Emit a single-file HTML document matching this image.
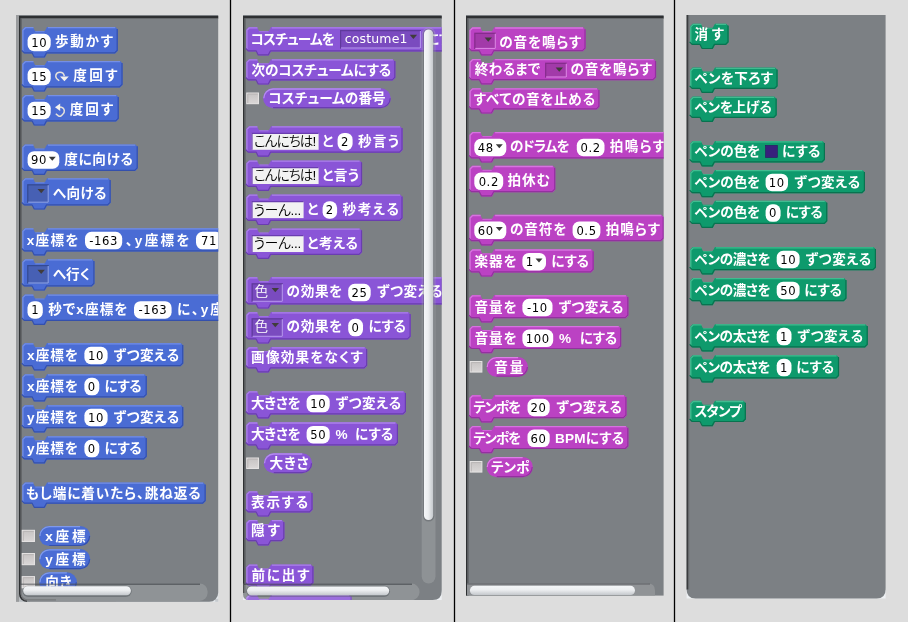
<!DOCTYPE html>
<html lang="ja"><head><meta charset="utf-8"><title>Scratch blocks</title>
<style>
html,body{margin:0;padding:0;background:#dddddd;}
body{width:908px;height:622px;overflow:hidden;position:relative;}
svg{position:absolute;left:0;top:0;display:block;will-change:transform;}
text{white-space:pre;font-feature-settings:"palt";}
</style></head><body>
<svg width="908" height="622" viewBox="0 0 908 622">
<defs><linearGradient id="tg" x1="0" y1="0" x2="0" y2="1"><stop offset="0" stop-color="#f4f6f8"/><stop offset="0.45" stop-color="#eceef0"/><stop offset="1" stop-color="#c4c8cc"/></linearGradient><linearGradient id="vg" x1="0" y1="0" x2="1" y2="0"><stop offset="0" stop-color="#f4f6f8"/><stop offset="0.45" stop-color="#eceef0"/><stop offset="1" stop-color="#c4c8cc"/></linearGradient><linearGradient id="cbg" x1="0" y1="0" x2="0" y2="1"><stop offset="0" stop-color="#c6c3c3"/><stop offset="1" stop-color="#dad7d7"/></linearGradient></defs>
<rect x="0" y="0" width="908" height="622" fill="#dddddd"/>
<rect x="229.85" y="0" width="1.3" height="622" fill="#000"/>
<rect x="453.85" y="0" width="1.3" height="622" fill="#000"/>
<rect x="673.85" y="0" width="1.3" height="622" fill="#000"/>
<rect x="116" y="591.8" width="102.2" height="10" fill="#e2e6ea"/>
<path d="M215.2,598.8 h3 v3 h-3z" fill="#c6cace"/>
<rect x="16" y="589.8" width="14" height="12" fill="#b9bdc1"/>
<path d="M19,15 H218.2 V592.8 A9,9 0 0 1 209.2,601.8 H27 A8,8 0 0 1 19,593.8 Z" fill="#7c8084"/>
<rect x="16" y="15" width="3" height="586.8" fill="#999b9d"/>
<rect x="19" y="16" width="199.2" height="2" fill="#2e3032"/>
<rect x="19" y="18" width="199.2" height="1" fill="#66696c"/>
<path d="M19.8,16 V593.8 A7.2,7.2 0 0 0 27,601" fill="none" stroke="#2e3032" stroke-width="1.6"/>
<path d="M21.2,18 V593.8 A6,6 0 0 0 27.2,599.8 H56" fill="none" stroke="#5e6164" stroke-width="1.2"/>
<clipPath id="cp1"><path d="M20.6,18 H218.2 V592.8 A9,9 0 0 1 209.2,601.8 H27 A8,8 0 0 1 20.6,593.8 Z"/></clipPath>
<g clip-path="url(#cp1)">
<path d="M24.80,27.00 L32.90,27.00 L35.00,31.00 L44.80,31.00 L47.10,27.00 L115.30,27.00 L117.80,29.50 L117.80,51.00 L115.30,53.50 L47.10,53.50 L44.90,57.60 L34.80,57.60 L32.70,53.50 L24.80,53.50 L22.30,51.00 L22.30,29.50Z" fill="#4a6cd4"/>
<path d="M22.90,51.70 L22.90,30.20 L25.40,27.70 L33.50,27.70 M47.90,27.70 L115.30,27.70" fill="none" stroke="#7f99ea" stroke-width="1.3" stroke-opacity="0.8" stroke-linejoin="round"/>
<path d="M35.30,31.60 L44.50,31.60" fill="none" stroke="#7f99ea" stroke-width="1" stroke-opacity="0.6"/>
<path d="M117.20,28.90 L117.20,50.40 L114.70,52.90 L46.50,52.90 L44.30,57.00 L34.20,57.00 L32.10,52.90 L24.20,52.90 L21.70,50.40" fill="none" stroke="#3450ad" stroke-width="1.2" stroke-linejoin="round"/>
<rect x="27.60" y="33.75" width="23.10" height="17.50" rx="6.50" ry="6.50" fill="#fff"/>
<text x="39.15" y="46.73" text-anchor="middle" letter-spacing="0.6" font-family='"DejaVu Sans","Liberation Sans",sans-serif' font-size="11.60" fill="#000">10</text>
<text x="55.10" y="46.30" textLength="57.70" lengthAdjust="spacing" font-family='"Liberation Sans","Noto Sans CJK JP",sans-serif' font-size="13.60" font-weight="bold" fill="#fff">歩動かす</text>
<path d="M24.80,61.00 L32.90,61.00 L35.00,65.00 L44.80,65.00 L47.10,61.00 L120.10,61.00 L122.60,63.50 L122.60,85.00 L120.10,87.50 L47.10,87.50 L44.90,91.60 L34.80,91.60 L32.70,87.50 L24.80,87.50 L22.30,85.00 L22.30,63.50Z" fill="#4a6cd4"/>
<path d="M22.90,85.70 L22.90,64.20 L25.40,61.70 L33.50,61.70 M47.90,61.70 L120.10,61.70" fill="none" stroke="#7f99ea" stroke-width="1.3" stroke-opacity="0.8" stroke-linejoin="round"/>
<path d="M35.30,65.60 L44.50,65.60" fill="none" stroke="#7f99ea" stroke-width="1" stroke-opacity="0.6"/>
<path d="M122.00,62.90 L122.00,84.40 L119.50,86.90 L46.50,86.90 L44.30,91.00 L34.20,91.00 L32.10,86.90 L24.20,86.90 L21.70,84.40" fill="none" stroke="#3450ad" stroke-width="1.2" stroke-linejoin="round"/>
<rect x="27.60" y="67.75" width="23.10" height="17.50" rx="6.50" ry="6.50" fill="#fff"/>
<text x="39.15" y="80.73" text-anchor="middle" letter-spacing="0.6" font-family='"DejaVu Sans","Liberation Sans",sans-serif' font-size="11.60" fill="#000">15</text>
<g transform="translate(55.00,71.50)" fill="none" stroke="#e6e2da" stroke-width="1.5"><path d="M4.2,9.2 L1.6,7 Q0.4,5.6 0.9,3.6 Q1.8,0.8 5,0.8 Q8.6,0.8 9.3,4.6"/><path d="M5,5 H13.8 L9.4,9.8 Z" fill="#f4f2ee" stroke="none"/></g>
<text x="73.30" y="80.30" textLength="44.00" lengthAdjust="spacing" font-family='"Liberation Sans","Noto Sans CJK JP",sans-serif' font-size="13.60" font-weight="bold" fill="#fff">度回す</text>
<path d="M24.80,95.00 L32.90,95.00 L35.00,99.00 L44.80,99.00 L47.10,95.00 L116.30,95.00 L118.80,97.50 L118.80,119.00 L116.30,121.50 L47.10,121.50 L44.90,125.60 L34.80,125.60 L32.70,121.50 L24.80,121.50 L22.30,119.00 L22.30,97.50Z" fill="#4a6cd4"/>
<path d="M22.90,119.70 L22.90,98.20 L25.40,95.70 L33.50,95.70 M47.90,95.70 L116.30,95.70" fill="none" stroke="#7f99ea" stroke-width="1.3" stroke-opacity="0.8" stroke-linejoin="round"/>
<path d="M35.30,99.60 L44.50,99.60" fill="none" stroke="#7f99ea" stroke-width="1" stroke-opacity="0.6"/>
<path d="M118.20,96.90 L118.20,118.40 L115.70,120.90 L46.50,120.90 L44.30,125.00 L34.20,125.00 L32.10,120.90 L24.20,120.90 L21.70,118.40" fill="none" stroke="#3450ad" stroke-width="1.2" stroke-linejoin="round"/>
<rect x="27.60" y="101.75" width="23.10" height="17.50" rx="6.50" ry="6.50" fill="#fff"/>
<text x="39.15" y="114.73" text-anchor="middle" letter-spacing="0.6" font-family='"DejaVu Sans","Liberation Sans",sans-serif' font-size="11.60" fill="#000">15</text>
<g transform="translate(55.00,103.50)" fill="none" stroke="#e6e2da" stroke-width="1.5"><path d="M4.5,3.6 Q8.6,3.6 9.3,7 Q9.6,9.4 7.6,11 L5.8,12.6 Q4.6,13.2 3.4,12.4 L0.8,10.2"/><path d="M5.2,0 V7.6 L0,3.8 Z" fill="#f4f2ee" stroke="none"/></g>
<text x="69.80" y="114.30" textLength="43.30" lengthAdjust="spacing" font-family='"Liberation Sans","Noto Sans CJK JP",sans-serif' font-size="13.60" font-weight="bold" fill="#fff">度回す</text>
<path d="M24.80,144.40 L32.90,144.40 L35.00,148.40 L44.80,148.40 L47.10,144.40 L135.30,144.40 L137.80,146.90 L137.80,168.40 L135.30,170.90 L47.10,170.90 L44.90,175.00 L34.80,175.00 L32.70,170.90 L24.80,170.90 L22.30,168.40 L22.30,146.90Z" fill="#4a6cd4"/>
<path d="M22.90,169.10 L22.90,147.60 L25.40,145.10 L33.50,145.10 M47.90,145.10 L135.30,145.10" fill="none" stroke="#7f99ea" stroke-width="1.3" stroke-opacity="0.8" stroke-linejoin="round"/>
<path d="M35.30,149.00 L44.50,149.00" fill="none" stroke="#7f99ea" stroke-width="1" stroke-opacity="0.6"/>
<path d="M137.20,146.30 L137.20,167.80 L134.70,170.30 L46.50,170.30 L44.30,174.40 L34.20,174.40 L32.10,170.30 L24.20,170.30 L21.70,167.80" fill="none" stroke="#3450ad" stroke-width="1.2" stroke-linejoin="round"/>
<rect x="27.60" y="151.15" width="31.70" height="17.50" rx="6.50" ry="6.50" fill="#fff"/>
<text x="38.95" y="164.13" text-anchor="middle" letter-spacing="0.6" font-family='"DejaVu Sans","Liberation Sans",sans-serif' font-size="11.60" fill="#000">90</text>
<path d="M48.80,156.70 h7.00 l-3.50,4.00 Z" fill="#3a3a3a"/>
<text x="64.20" y="163.70" textLength="68.80" lengthAdjust="spacing" font-family='"Liberation Sans","Noto Sans CJK JP",sans-serif' font-size="13.60" font-weight="bold" fill="#fff">度に向ける</text>
<path d="M24.80,178.20 L32.90,178.20 L35.00,182.20 L44.80,182.20 L47.10,178.20 L108.20,178.20 L110.70,180.70 L110.70,203.00 L108.20,205.50 L47.10,205.50 L44.90,209.60 L34.80,209.60 L32.70,205.50 L24.80,205.50 L22.30,203.00 L22.30,180.70Z" fill="#4a6cd4"/>
<path d="M22.90,203.70 L22.90,181.40 L25.40,178.90 L33.50,178.90 M47.90,178.90 L108.20,178.90" fill="none" stroke="#7f99ea" stroke-width="1.3" stroke-opacity="0.8" stroke-linejoin="round"/>
<path d="M35.30,182.80 L44.50,182.80" fill="none" stroke="#7f99ea" stroke-width="1" stroke-opacity="0.6"/>
<path d="M110.10,180.10 L110.10,202.40 L107.60,204.90 L46.50,204.90 L44.30,209.00 L34.20,209.00 L32.10,204.90 L24.20,204.90 L21.70,202.40" fill="none" stroke="#3450ad" stroke-width="1.2" stroke-linejoin="round"/>
<rect x="27.20" y="184.20" width="21.50" height="18.50" fill="#4760b4"/>
<path d="M27.80,202.70 V184.80 H48.70" fill="none" stroke="#344a93" stroke-width="1.2"/>
<path d="M28.20,202.20 H48.20 V185.20" fill="none" stroke="#90a6ea" stroke-width="1"/>
<path d="M37.50,189.00 h7.40 l-3.70,4.20 Z" fill="#403c3c"/>
<text x="52.70" y="197.50" textLength="53.80" lengthAdjust="spacing" font-family='"Liberation Sans","Noto Sans CJK JP",sans-serif' font-size="13.60" font-weight="bold" fill="#fff">へ向ける</text>
<path d="M24.80,228.20 L32.90,228.20 L35.00,232.20 L44.80,232.20 L47.10,228.20 L257.50,228.20 L260.00,230.70 L260.00,248.90 L257.50,251.40 L47.10,251.40 L44.90,255.50 L34.80,255.50 L32.70,251.40 L24.80,251.40 L22.30,248.90 L22.30,230.70Z" fill="#4a6cd4"/>
<path d="M22.90,249.60 L22.90,231.40 L25.40,228.90 L33.50,228.90 M47.90,228.90 L257.50,228.90" fill="none" stroke="#7f99ea" stroke-width="1.3" stroke-opacity="0.8" stroke-linejoin="round"/>
<path d="M35.30,232.80 L44.50,232.80" fill="none" stroke="#7f99ea" stroke-width="1" stroke-opacity="0.6"/>
<path d="M259.40,230.10 L259.40,248.30 L256.90,250.80 L46.50,250.80 L44.30,254.90 L34.20,254.90 L32.10,250.80 L24.20,250.80 L21.70,248.30" fill="none" stroke="#3450ad" stroke-width="1.2" stroke-linejoin="round"/>
<text x="26.70" y="244.80" textLength="51.80" lengthAdjust="spacing" font-family='"Liberation Sans","Noto Sans CJK JP",sans-serif' font-size="13.60" font-weight="bold" fill="#fff">x座標を</text>
<rect x="85.00" y="231.85" width="37.20" height="17.50" rx="6.50" ry="6.50" fill="#fff"/>
<text x="103.60" y="244.83" text-anchor="middle" letter-spacing="0.6" font-family='"DejaVu Sans","Liberation Sans",sans-serif' font-size="11.60" fill="#000">-163</text>
<text x="125.70" y="244.80" textLength="63.80" lengthAdjust="spacing" font-family='"Liberation Sans","Noto Sans CJK JP",sans-serif' font-size="13.60" font-weight="bold" fill="#fff">、y座標を</text>
<rect x="196.00" y="231.85" width="26.00" height="17.50" rx="6.50" ry="6.50" fill="#fff"/>
<text x="209.00" y="244.83" text-anchor="middle" letter-spacing="0.6" font-family='"DejaVu Sans","Liberation Sans",sans-serif' font-size="11.60" fill="#000">71</text>
<path d="M24.80,259.20 L32.90,259.20 L35.00,263.20 L44.80,263.20 L47.10,259.20 L92.00,259.20 L94.50,261.70 L94.50,284.00 L92.00,286.50 L47.10,286.50 L44.90,290.60 L34.80,290.60 L32.70,286.50 L24.80,286.50 L22.30,284.00 L22.30,261.70Z" fill="#4a6cd4"/>
<path d="M22.90,284.70 L22.90,262.40 L25.40,259.90 L33.50,259.90 M47.90,259.90 L92.00,259.90" fill="none" stroke="#7f99ea" stroke-width="1.3" stroke-opacity="0.8" stroke-linejoin="round"/>
<path d="M35.30,263.80 L44.50,263.80" fill="none" stroke="#7f99ea" stroke-width="1" stroke-opacity="0.6"/>
<path d="M93.90,261.10 L93.90,283.40 L91.40,285.90 L46.50,285.90 L44.30,290.00 L34.20,290.00 L32.10,285.90 L24.20,285.90 L21.70,283.40" fill="none" stroke="#3450ad" stroke-width="1.2" stroke-linejoin="round"/>
<rect x="27.20" y="265.00" width="21.50" height="18.50" fill="#4760b4"/>
<path d="M27.80,283.50 V265.60 H48.70" fill="none" stroke="#344a93" stroke-width="1.2"/>
<path d="M28.20,283.00 H48.20 V266.00" fill="none" stroke="#90a6ea" stroke-width="1"/>
<path d="M37.50,269.80 h7.40 l-3.70,4.20 Z" fill="#403c3c"/>
<text x="52.70" y="278.50" textLength="37.30" lengthAdjust="spacing" font-family='"Liberation Sans","Noto Sans CJK JP",sans-serif' font-size="13.60" font-weight="bold" fill="#fff">へ行く</text>
<path d="M24.80,294.40 L32.90,294.40 L35.00,298.40 L44.80,298.40 L47.10,294.40 L297.50,294.40 L300.00,296.90 L300.00,318.40 L297.50,320.90 L47.10,320.90 L44.90,325.00 L34.80,325.00 L32.70,320.90 L24.80,320.90 L22.30,318.40 L22.30,296.90Z" fill="#4a6cd4"/>
<path d="M22.90,319.10 L22.90,297.60 L25.40,295.10 L33.50,295.10 M47.90,295.10 L297.50,295.10" fill="none" stroke="#7f99ea" stroke-width="1.3" stroke-opacity="0.8" stroke-linejoin="round"/>
<path d="M35.30,299.00 L44.50,299.00" fill="none" stroke="#7f99ea" stroke-width="1" stroke-opacity="0.6"/>
<path d="M299.40,296.30 L299.40,317.80 L296.90,320.30 L46.50,320.30 L44.30,324.40 L34.20,324.40 L32.10,320.30 L24.20,320.30 L21.70,317.80" fill="none" stroke="#3450ad" stroke-width="1.2" stroke-linejoin="round"/>
<rect x="27.50" y="301.15" width="15.30" height="17.50" rx="6.50" ry="6.50" fill="#fff"/>
<text x="35.15" y="314.13" text-anchor="middle" letter-spacing="0.6" font-family='"DejaVu Sans","Liberation Sans",sans-serif' font-size="11.60" fill="#000">1</text>
<text x="48.20" y="313.70" textLength="79.30" lengthAdjust="spacing" font-family='"Liberation Sans","Noto Sans CJK JP",sans-serif' font-size="13.60" font-weight="bold" fill="#fff">秒でx座標を</text>
<rect x="134.00" y="301.15" width="37.60" height="17.50" rx="6.50" ry="6.50" fill="#fff"/>
<text x="152.80" y="314.13" text-anchor="middle" letter-spacing="0.6" font-family='"DejaVu Sans","Liberation Sans",sans-serif' font-size="11.60" fill="#000">-163</text>
<text x="177.10" y="313.70" textLength="77.40" lengthAdjust="spacing" font-family='"Liberation Sans","Noto Sans CJK JP",sans-serif' font-size="13.60" font-weight="bold" fill="#fff">に、y座標を</text>
<rect x="260.00" y="301.15" width="23.00" height="17.50" rx="6.50" ry="6.50" fill="#fff"/>
<text x="271.50" y="314.13" text-anchor="middle" letter-spacing="0.6" font-family='"DejaVu Sans","Liberation Sans",sans-serif' font-size="11.60" fill="#000">71</text>
<path d="M24.80,343.10 L32.90,343.10 L35.00,347.10 L44.80,347.10 L47.10,343.10 L180.80,343.10 L183.30,345.60 L183.30,363.80 L180.80,366.30 L47.10,366.30 L44.90,370.40 L34.80,370.40 L32.70,366.30 L24.80,366.30 L22.30,363.80 L22.30,345.60Z" fill="#4a6cd4"/>
<path d="M22.90,364.50 L22.90,346.30 L25.40,343.80 L33.50,343.80 M47.90,343.80 L180.80,343.80" fill="none" stroke="#7f99ea" stroke-width="1.3" stroke-opacity="0.8" stroke-linejoin="round"/>
<path d="M35.30,347.70 L44.50,347.70" fill="none" stroke="#7f99ea" stroke-width="1" stroke-opacity="0.6"/>
<path d="M182.70,345.00 L182.70,363.20 L180.20,365.70 L46.50,365.70 L44.30,369.80 L34.20,369.80 L32.10,365.70 L24.20,365.70 L21.70,363.20" fill="none" stroke="#3450ad" stroke-width="1.2" stroke-linejoin="round"/>
<text x="27.00" y="359.70" textLength="51.00" lengthAdjust="spacing" font-family='"Liberation Sans","Noto Sans CJK JP",sans-serif' font-size="13.60" font-weight="bold" fill="#fff">x座標を</text>
<rect x="84.40" y="346.75" width="23.20" height="17.50" rx="6.50" ry="6.50" fill="#fff"/>
<text x="96.00" y="359.73" text-anchor="middle" letter-spacing="0.6" font-family='"DejaVu Sans","Liberation Sans",sans-serif' font-size="11.60" fill="#000">10</text>
<text x="113.50" y="359.70" textLength="65.60" lengthAdjust="spacing" font-family='"Liberation Sans","Noto Sans CJK JP",sans-serif' font-size="13.60" font-weight="bold" fill="#fff">ずつ変える</text>
<path d="M24.80,374.20 L32.90,374.20 L35.00,378.20 L44.80,378.20 L47.10,374.20 L144.30,374.20 L146.80,376.70 L146.80,394.90 L144.30,397.40 L47.10,397.40 L44.90,401.50 L34.80,401.50 L32.70,397.40 L24.80,397.40 L22.30,394.90 L22.30,376.70Z" fill="#4a6cd4"/>
<path d="M22.90,395.60 L22.90,377.40 L25.40,374.90 L33.50,374.90 M47.90,374.90 L144.30,374.90" fill="none" stroke="#7f99ea" stroke-width="1.3" stroke-opacity="0.8" stroke-linejoin="round"/>
<path d="M35.30,378.80 L44.50,378.80" fill="none" stroke="#7f99ea" stroke-width="1" stroke-opacity="0.6"/>
<path d="M146.20,376.10 L146.20,394.30 L143.70,396.80 L46.50,396.80 L44.30,400.90 L34.20,400.90 L32.10,396.80 L24.20,396.80 L21.70,394.30" fill="none" stroke="#3450ad" stroke-width="1.2" stroke-linejoin="round"/>
<text x="27.00" y="390.80" textLength="51.00" lengthAdjust="spacing" font-family='"Liberation Sans","Noto Sans CJK JP",sans-serif' font-size="13.60" font-weight="bold" fill="#fff">x座標を</text>
<rect x="84.40" y="377.85" width="14.90" height="17.50" rx="6.50" ry="6.50" fill="#fff"/>
<text x="91.85" y="390.83" text-anchor="middle" letter-spacing="0.6" font-family='"DejaVu Sans","Liberation Sans",sans-serif' font-size="11.60" fill="#000">0</text>
<text x="104.50" y="390.80" textLength="37.30" lengthAdjust="spacing" font-family='"Liberation Sans","Noto Sans CJK JP",sans-serif' font-size="13.60" font-weight="bold" fill="#fff">にする</text>
<path d="M24.80,405.10 L32.90,405.10 L35.00,409.10 L44.80,409.10 L47.10,405.10 L180.80,405.10 L183.30,407.60 L183.30,425.80 L180.80,428.30 L47.10,428.30 L44.90,432.40 L34.80,432.40 L32.70,428.30 L24.80,428.30 L22.30,425.80 L22.30,407.60Z" fill="#4a6cd4"/>
<path d="M22.90,426.50 L22.90,408.30 L25.40,405.80 L33.50,405.80 M47.90,405.80 L180.80,405.80" fill="none" stroke="#7f99ea" stroke-width="1.3" stroke-opacity="0.8" stroke-linejoin="round"/>
<path d="M35.30,409.70 L44.50,409.70" fill="none" stroke="#7f99ea" stroke-width="1" stroke-opacity="0.6"/>
<path d="M182.70,407.00 L182.70,425.20 L180.20,427.70 L46.50,427.70 L44.30,431.80 L34.20,431.80 L32.10,427.70 L24.20,427.70 L21.70,425.20" fill="none" stroke="#3450ad" stroke-width="1.2" stroke-linejoin="round"/>
<text x="27.00" y="421.70" textLength="51.00" lengthAdjust="spacing" font-family='"Liberation Sans","Noto Sans CJK JP",sans-serif' font-size="13.60" font-weight="bold" fill="#fff">y座標を</text>
<rect x="84.40" y="408.75" width="23.20" height="17.50" rx="6.50" ry="6.50" fill="#fff"/>
<text x="96.00" y="421.73" text-anchor="middle" letter-spacing="0.6" font-family='"DejaVu Sans","Liberation Sans",sans-serif' font-size="11.60" fill="#000">10</text>
<text x="113.50" y="421.70" textLength="65.60" lengthAdjust="spacing" font-family='"Liberation Sans","Noto Sans CJK JP",sans-serif' font-size="13.60" font-weight="bold" fill="#fff">ずつ変える</text>
<path d="M24.80,436.20 L32.90,436.20 L35.00,440.20 L44.80,440.20 L47.10,436.20 L144.30,436.20 L146.80,438.70 L146.80,456.90 L144.30,459.40 L47.10,459.40 L44.90,463.50 L34.80,463.50 L32.70,459.40 L24.80,459.40 L22.30,456.90 L22.30,438.70Z" fill="#4a6cd4"/>
<path d="M22.90,457.60 L22.90,439.40 L25.40,436.90 L33.50,436.90 M47.90,436.90 L144.30,436.90" fill="none" stroke="#7f99ea" stroke-width="1.3" stroke-opacity="0.8" stroke-linejoin="round"/>
<path d="M35.30,440.80 L44.50,440.80" fill="none" stroke="#7f99ea" stroke-width="1" stroke-opacity="0.6"/>
<path d="M146.20,438.10 L146.20,456.30 L143.70,458.80 L46.50,458.80 L44.30,462.90 L34.20,462.90 L32.10,458.80 L24.20,458.80 L21.70,456.30" fill="none" stroke="#3450ad" stroke-width="1.2" stroke-linejoin="round"/>
<text x="27.00" y="452.80" textLength="51.00" lengthAdjust="spacing" font-family='"Liberation Sans","Noto Sans CJK JP",sans-serif' font-size="13.60" font-weight="bold" fill="#fff">y座標を</text>
<rect x="84.40" y="439.85" width="14.90" height="17.50" rx="6.50" ry="6.50" fill="#fff"/>
<text x="91.85" y="452.83" text-anchor="middle" letter-spacing="0.6" font-family='"DejaVu Sans","Liberation Sans",sans-serif' font-size="11.60" fill="#000">0</text>
<text x="104.50" y="452.80" textLength="37.30" lengthAdjust="spacing" font-family='"Liberation Sans","Noto Sans CJK JP",sans-serif' font-size="13.60" font-weight="bold" fill="#fff">にする</text>
<path d="M24.80,482.50 L32.90,482.50 L35.00,486.50 L44.80,486.50 L47.10,482.50 L203.20,482.50 L205.70,485.00 L205.70,501.30 L203.20,503.80 L47.10,503.80 L44.90,507.90 L34.80,507.90 L32.70,503.80 L24.80,503.80 L22.30,501.30 L22.30,485.00Z" fill="#4a6cd4"/>
<path d="M22.90,502.00 L22.90,485.70 L25.40,483.20 L33.50,483.20 M47.90,483.20 L203.20,483.20" fill="none" stroke="#7f99ea" stroke-width="1.3" stroke-opacity="0.8" stroke-linejoin="round"/>
<path d="M35.30,487.10 L44.50,487.10" fill="none" stroke="#7f99ea" stroke-width="1" stroke-opacity="0.6"/>
<path d="M205.10,484.40 L205.10,500.70 L202.60,503.20 L46.50,503.20 L44.30,507.30 L34.20,507.30 L32.10,503.20 L24.20,503.20 L21.70,500.70" fill="none" stroke="#3450ad" stroke-width="1.2" stroke-linejoin="round"/>
<text x="25.90" y="497.80" textLength="174.90" lengthAdjust="spacing" font-family='"Liberation Sans","Noto Sans CJK JP",sans-serif' font-size="13.60" font-weight="bold" fill="#fff">もし端に着いたら、跳ね返る</text>
<rect x="39.20" y="525.90" width="51.00" height="20.20" rx="10.10" fill="#4a6cd4"/>
<path d="M39.90,536.00 A9.40,9.40 0 0 1 49.30,526.60 H80.10" fill="none" stroke="#7f99ea" stroke-width="1.3"/>
<path d="M49.30,545.50 H80.10 A9.50,9.50 0 0 0 89.60,536.00" fill="none" stroke="#3450ad" stroke-width="1.2"/>
<text x="45.30" y="540.70" textLength="40.20" lengthAdjust="spacing" font-family='"Liberation Sans","Noto Sans CJK JP",sans-serif' font-size="13.60" font-weight="bold" fill="#fff">x座標</text>
<rect x="22.25" y="530.35" width="12.20" height="11.10" fill="url(#cbg)" stroke="#e4e2e2" stroke-width="1.1"/>
<path d="M23.30,540.80 V531.40 H33.80" fill="none" stroke="#b9b6b6" stroke-width="1"/>
<rect x="39.20" y="549.10" width="51.00" height="20.20" rx="10.10" fill="#4a6cd4"/>
<path d="M39.90,559.20 A9.40,9.40 0 0 1 49.30,549.80 H80.10" fill="none" stroke="#7f99ea" stroke-width="1.3"/>
<path d="M49.30,568.70 H80.10 A9.50,9.50 0 0 0 89.60,559.20" fill="none" stroke="#3450ad" stroke-width="1.2"/>
<text x="45.30" y="563.90" textLength="40.20" lengthAdjust="spacing" font-family='"Liberation Sans","Noto Sans CJK JP",sans-serif' font-size="13.60" font-weight="bold" fill="#fff">y座標</text>
<rect x="22.25" y="553.55" width="12.20" height="11.10" fill="url(#cbg)" stroke="#e4e2e2" stroke-width="1.1"/>
<path d="M23.30,564.00 V554.60 H33.80" fill="none" stroke="#b9b6b6" stroke-width="1"/>
<rect x="39.20" y="572.20" width="37.70" height="20.20" rx="10.10" fill="#4a6cd4"/>
<path d="M39.90,582.30 A9.40,9.40 0 0 1 49.30,572.90 H66.80" fill="none" stroke="#7f99ea" stroke-width="1.3"/>
<path d="M49.30,591.80 H66.80 A9.50,9.50 0 0 0 76.30,582.30" fill="none" stroke="#3450ad" stroke-width="1.2"/>
<text x="45.30" y="587.00" textLength="26.20" lengthAdjust="spacing" font-family='"Liberation Sans","Noto Sans CJK JP",sans-serif' font-size="13.60" font-weight="bold" fill="#fff">向き</text>
<rect x="22.25" y="576.65" width="12.20" height="11.10" fill="url(#cbg)" stroke="#e4e2e2" stroke-width="1.1"/>
<path d="M23.30,587.10 V577.70 H33.80" fill="none" stroke="#b9b6b6" stroke-width="1"/>
<rect x="8" y="583.5" width="199.6" height="17.4" rx="8" fill="#ffffff" fill-opacity="0.15"/>
<path d="M20,584.2 H200" stroke="#22262a" stroke-opacity="0.45" stroke-width="1.4" fill="none"/>
<rect x="22.4" y="585.4" width="109.3" height="11.6" rx="5.8" fill="#30343a" fill-opacity="0.3"/>
<rect x="23.20" y="586.30" width="107.70" height="8.90" rx="4.45" fill="url(#tg)"/>
</g>
<rect x="243" y="590" width="198.7" height="10" fill="#eef1f4"/>
<path d="M243,15 H441.7 V591 Q441.7,600 432.7,600 H249 Q243,600 243,594 Z" fill="#7c8084"/>
<rect x="243" y="16" width="198.7" height="2" fill="#2e3032"/>
<rect x="243" y="18" width="198.7" height="1" fill="#66696c"/>
<rect x="243" y="16" width="1.5" height="577" fill="#2e3032"/>
<rect x="244.5" y="18" width="1.2" height="575" fill="#5e6164"/>
<clipPath id="cp2"><path d="M244,18 H441.7 V591 Q441.7,600 432.7,600 H249 Q243,600 243,594 Z"/></clipPath>
<g clip-path="url(#cp2)">
<path d="M248.80,27.10 L256.90,27.10 L259.00,31.10 L268.80,31.10 L271.10,27.10 L467.50,27.10 L470.00,29.60 L470.00,48.90 L467.50,51.40 L271.10,51.40 L268.90,55.50 L258.80,55.50 L256.70,51.40 L248.80,51.40 L246.30,48.90 L246.30,29.60Z" fill="#8a55d7"/>
<path d="M246.90,49.60 L246.90,30.30 L249.40,27.80 L257.50,27.80 M271.90,27.80 L467.50,27.80" fill="none" stroke="#b48cf0" stroke-width="1.3" stroke-opacity="0.8" stroke-linejoin="round"/>
<path d="M259.30,31.70 L268.50,31.70" fill="none" stroke="#b48cf0" stroke-width="1" stroke-opacity="0.6"/>
<path d="M469.40,29.00 L469.40,48.30 L466.90,50.80 L270.50,50.80 L268.30,54.90 L258.20,54.90 L256.10,50.80 L248.20,50.80 L245.70,48.30" fill="none" stroke="#6a3db0" stroke-width="1.2" stroke-linejoin="round"/>
<text x="250.50" y="43.70" textLength="84.40" lengthAdjust="spacing" font-family='"Liberation Sans","Noto Sans CJK JP",sans-serif' font-size="13.60" font-weight="bold" fill="#fff">コスチュームを</text>
<rect x="340.00" y="30.00" width="80.90" height="18.50" fill="#7a4bbf"/>
<path d="M340.60,48.50 V30.60 H420.90" fill="none" stroke="#5f3a9c" stroke-width="1.2"/>
<path d="M341.00,48.00 H420.40 V31.00" fill="none" stroke="#b89af0" stroke-width="1"/>
<path d="M409.70,34.80 h7.40 l-3.70,4.20 Z" fill="#403c3c"/>
<text x="344.70" y="43.45" textLength="62.80" lengthAdjust="spacing" font-family='"DejaVu Sans","Liberation Sans",sans-serif' font-size="12.5" fill="#fff">costume1</text>
<text x="426.00" y="43.70" textLength="37.50" lengthAdjust="spacing" font-family='"Liberation Sans","Noto Sans CJK JP",sans-serif' font-size="13.60" font-weight="bold" fill="#fff">にする</text>
<path d="M248.80,59.20 L256.90,59.20 L259.00,63.20 L268.80,63.20 L271.10,59.20 L392.90,59.20 L395.40,61.70 L395.40,78.00 L392.90,80.50 L271.10,80.50 L268.90,84.60 L258.80,84.60 L256.70,80.50 L248.80,80.50 L246.30,78.00 L246.30,61.70Z" fill="#8a55d7"/>
<path d="M246.90,78.70 L246.90,62.40 L249.40,59.90 L257.50,59.90 M271.90,59.90 L392.90,59.90" fill="none" stroke="#b48cf0" stroke-width="1.3" stroke-opacity="0.8" stroke-linejoin="round"/>
<path d="M259.30,63.80 L268.50,63.80" fill="none" stroke="#b48cf0" stroke-width="1" stroke-opacity="0.6"/>
<path d="M394.80,61.10 L394.80,77.40 L392.30,79.90 L270.50,79.90 L268.30,84.00 L258.20,84.00 L256.10,79.90 L248.20,79.90 L245.70,77.40" fill="none" stroke="#6a3db0" stroke-width="1.2" stroke-linejoin="round"/>
<text x="251.50" y="74.50" textLength="139.80" lengthAdjust="spacing" font-family='"Liberation Sans","Noto Sans CJK JP",sans-serif' font-size="13.60" font-weight="bold" fill="#fff">次のコスチュームにする</text>
<rect x="263.10" y="88.30" width="127.70" height="19.90" rx="9.95" fill="#8a55d7"/>
<path d="M263.80,98.25 A9.25,9.25 0 0 1 273.05,89.00 H380.85" fill="none" stroke="#b48cf0" stroke-width="1.3"/>
<path d="M273.05,107.60 H380.85 A9.35,9.35 0 0 0 390.20,98.25" fill="none" stroke="#6a3db0" stroke-width="1.2"/>
<text x="268.40" y="102.95" textLength="117.30" lengthAdjust="spacing" font-family='"Liberation Sans","Noto Sans CJK JP",sans-serif' font-size="13.60" font-weight="bold" fill="#fff">コスチュームの番号</text>
<rect x="246.75" y="93.05" width="11.70" height="10.60" fill="url(#cbg)" stroke="#e4e2e2" stroke-width="1.1"/>
<path d="M247.80,103.00 V94.10 H257.80" fill="none" stroke="#b9b6b6" stroke-width="1"/>
<path d="M248.80,126.20 L256.90,126.20 L259.00,130.20 L268.80,130.20 L271.10,126.20 L400.10,126.20 L402.60,128.70 L402.60,150.20 L400.10,152.70 L271.10,152.70 L268.90,156.80 L258.80,156.80 L256.70,152.70 L248.80,152.70 L246.30,150.20 L246.30,128.70Z" fill="#8a55d7"/>
<path d="M246.90,150.90 L246.90,129.40 L249.40,126.90 L257.50,126.90 M271.90,126.90 L400.10,126.90" fill="none" stroke="#b48cf0" stroke-width="1.3" stroke-opacity="0.8" stroke-linejoin="round"/>
<path d="M259.30,130.80 L268.50,130.80" fill="none" stroke="#b48cf0" stroke-width="1" stroke-opacity="0.6"/>
<path d="M402.00,128.10 L402.00,149.60 L399.50,152.10 L270.50,152.10 L268.30,156.20 L258.20,156.20 L256.10,152.10 L248.20,152.10 L245.70,149.60" fill="none" stroke="#6a3db0" stroke-width="1.2" stroke-linejoin="round"/>
<rect x="251.60" y="133.00" width="67.00" height="16.80" fill="#f2f2f2"/>
<path d="M252.00,149.80 V133.40 H318.60" fill="none" stroke="#6a3db0" stroke-width="1.2"/>
<text x="253.90" y="146.20" textLength="62.40" lengthAdjust="spacing" font-family='"Liberation Sans","Noto Sans CJK JP",sans-serif' font-size="13.60" font-weight="350" fill="#000">こんにちは!</text>
<text x="322.10" y="145.50" textLength="10.90" lengthAdjust="spacing" font-family='"Liberation Sans","Noto Sans CJK JP",sans-serif' font-size="13.60" font-weight="bold" fill="#fff">と</text>
<rect x="337.60" y="132.95" width="15.00" height="17.50" rx="6.50" ry="6.50" fill="#fff"/>
<text x="345.10" y="145.93" text-anchor="middle" letter-spacing="0.6" font-family='"DejaVu Sans","Liberation Sans",sans-serif' font-size="11.60" fill="#000">2</text>
<text x="357.90" y="145.50" textLength="41.20" lengthAdjust="spacing" font-family='"Liberation Sans","Noto Sans CJK JP",sans-serif' font-size="13.60" font-weight="bold" fill="#fff">秒言う</text>
<path d="M248.80,160.40 L256.90,160.40 L259.00,164.40 L268.80,164.40 L271.10,160.40 L359.60,160.40 L362.10,162.90 L362.10,184.40 L359.60,186.90 L271.10,186.90 L268.90,191.00 L258.80,191.00 L256.70,186.90 L248.80,186.90 L246.30,184.40 L246.30,162.90Z" fill="#8a55d7"/>
<path d="M246.90,185.10 L246.90,163.60 L249.40,161.10 L257.50,161.10 M271.90,161.10 L359.60,161.10" fill="none" stroke="#b48cf0" stroke-width="1.3" stroke-opacity="0.8" stroke-linejoin="round"/>
<path d="M259.30,165.00 L268.50,165.00" fill="none" stroke="#b48cf0" stroke-width="1" stroke-opacity="0.6"/>
<path d="M361.50,162.30 L361.50,183.80 L359.00,186.30 L270.50,186.30 L268.30,190.40 L258.20,190.40 L256.10,186.30 L248.20,186.30 L245.70,183.80" fill="none" stroke="#6a3db0" stroke-width="1.2" stroke-linejoin="round"/>
<rect x="251.60" y="167.20" width="67.00" height="16.80" fill="#f2f2f2"/>
<path d="M252.00,184.00 V167.60 H318.60" fill="none" stroke="#6a3db0" stroke-width="1.2"/>
<text x="253.90" y="180.40" textLength="62.40" lengthAdjust="spacing" font-family='"Liberation Sans","Noto Sans CJK JP",sans-serif' font-size="13.60" font-weight="350" fill="#000">こんにちは!</text>
<text x="322.10" y="179.70" textLength="37.00" lengthAdjust="spacing" font-family='"Liberation Sans","Noto Sans CJK JP",sans-serif' font-size="13.60" font-weight="bold" fill="#fff">と言う</text>
<path d="M248.80,194.50 L256.90,194.50 L259.00,198.50 L268.80,198.50 L271.10,194.50 L400.10,194.50 L402.60,197.00 L402.60,218.50 L400.10,221.00 L271.10,221.00 L268.90,225.10 L258.80,225.10 L256.70,221.00 L248.80,221.00 L246.30,218.50 L246.30,197.00Z" fill="#8a55d7"/>
<path d="M246.90,219.20 L246.90,197.70 L249.40,195.20 L257.50,195.20 M271.90,195.20 L400.10,195.20" fill="none" stroke="#b48cf0" stroke-width="1.3" stroke-opacity="0.8" stroke-linejoin="round"/>
<path d="M259.30,199.10 L268.50,199.10" fill="none" stroke="#b48cf0" stroke-width="1" stroke-opacity="0.6"/>
<path d="M402.00,196.40 L402.00,217.90 L399.50,220.40 L270.50,220.40 L268.30,224.50 L258.20,224.50 L256.10,220.40 L248.20,220.40 L245.70,217.90" fill="none" stroke="#6a3db0" stroke-width="1.2" stroke-linejoin="round"/>
<rect x="251.60" y="201.30" width="52.00" height="16.80" fill="#f2f2f2"/>
<path d="M252.00,218.10 V201.70 H303.60" fill="none" stroke="#6a3db0" stroke-width="1.2"/>
<text x="253.90" y="214.50" textLength="47.40" lengthAdjust="spacing" font-family='"Liberation Sans","Noto Sans CJK JP",sans-serif' font-size="13.60" font-weight="350" fill="#000">うーん...</text>
<text x="307.00" y="213.80" textLength="11.00" lengthAdjust="spacing" font-family='"Liberation Sans","Noto Sans CJK JP",sans-serif' font-size="13.60" font-weight="bold" fill="#fff">と</text>
<rect x="322.60" y="201.25" width="14.50" height="17.50" rx="6.50" ry="6.50" fill="#fff"/>
<text x="329.85" y="214.23" text-anchor="middle" letter-spacing="0.6" font-family='"DejaVu Sans","Liberation Sans",sans-serif' font-size="11.60" fill="#000">2</text>
<text x="342.40" y="213.80" textLength="56.50" lengthAdjust="spacing" font-family='"Liberation Sans","Noto Sans CJK JP",sans-serif' font-size="13.60" font-weight="bold" fill="#fff">秒考える</text>
<path d="M248.80,228.40 L256.90,228.40 L259.00,232.40 L268.80,232.40 L271.10,228.40 L359.60,228.40 L362.10,230.90 L362.10,252.40 L359.60,254.90 L271.10,254.90 L268.90,259.00 L258.80,259.00 L256.70,254.90 L248.80,254.90 L246.30,252.40 L246.30,230.90Z" fill="#8a55d7"/>
<path d="M246.90,253.10 L246.90,231.60 L249.40,229.10 L257.50,229.10 M271.90,229.10 L359.60,229.10" fill="none" stroke="#b48cf0" stroke-width="1.3" stroke-opacity="0.8" stroke-linejoin="round"/>
<path d="M259.30,233.00 L268.50,233.00" fill="none" stroke="#b48cf0" stroke-width="1" stroke-opacity="0.6"/>
<path d="M361.50,230.30 L361.50,251.80 L359.00,254.30 L270.50,254.30 L268.30,258.40 L258.20,258.40 L256.10,254.30 L248.20,254.30 L245.70,251.80" fill="none" stroke="#6a3db0" stroke-width="1.2" stroke-linejoin="round"/>
<rect x="251.60" y="235.20" width="52.00" height="16.80" fill="#f2f2f2"/>
<path d="M252.00,252.00 V235.60 H303.60" fill="none" stroke="#6a3db0" stroke-width="1.2"/>
<text x="253.90" y="248.40" textLength="47.40" lengthAdjust="spacing" font-family='"Liberation Sans","Noto Sans CJK JP",sans-serif' font-size="13.60" font-weight="350" fill="#000">うーん...</text>
<text x="307.00" y="247.70" textLength="51.00" lengthAdjust="spacing" font-family='"Liberation Sans","Noto Sans CJK JP",sans-serif' font-size="13.60" font-weight="bold" fill="#fff">と考える</text>
<path d="M248.80,277.10 L256.90,277.10 L259.00,281.10 L268.80,281.10 L271.10,277.10 L467.50,277.10 L470.00,279.60 L470.00,302.00 L467.50,304.50 L271.10,304.50 L268.90,308.60 L258.80,308.60 L256.70,304.50 L248.80,304.50 L246.30,302.00 L246.30,279.60Z" fill="#8a55d7"/>
<path d="M246.90,302.70 L246.90,280.30 L249.40,277.80 L257.50,277.80 M271.90,277.80 L467.50,277.80" fill="none" stroke="#b48cf0" stroke-width="1.3" stroke-opacity="0.8" stroke-linejoin="round"/>
<path d="M259.30,281.70 L268.50,281.70" fill="none" stroke="#b48cf0" stroke-width="1" stroke-opacity="0.6"/>
<path d="M469.40,279.00 L469.40,301.40 L466.90,303.90 L270.50,303.90 L268.30,308.00 L258.20,308.00 L256.10,303.90 L248.20,303.90 L245.70,301.40" fill="none" stroke="#6a3db0" stroke-width="1.2" stroke-linejoin="round"/>
<rect x="251.60" y="283.20" width="31.20" height="18.60" fill="#7a4bbf"/>
<path d="M252.20,301.80 V283.80 H282.80" fill="none" stroke="#5f3a9c" stroke-width="1.2"/>
<path d="M252.60,301.30 H282.30 V284.20" fill="none" stroke="#b89af0" stroke-width="1"/>
<path d="M271.60,288.00 h7.40 l-3.70,4.20 Z" fill="#403c3c"/>
<text x="254.50" y="295.60" textLength="15.00" lengthAdjust="spacing" font-family='"Liberation Sans","Noto Sans CJK JP",sans-serif' font-size="13.60" font-weight="350" fill="#fff">色</text>
<text x="286.50" y="296.40" textLength="55.80" lengthAdjust="spacing" font-family='"Liberation Sans","Noto Sans CJK JP",sans-serif' font-size="13.60" font-weight="bold" fill="#fff">の効果を</text>
<rect x="348.20" y="283.85" width="22.50" height="17.50" rx="6.50" ry="6.50" fill="#fff"/>
<text x="359.45" y="296.83" text-anchor="middle" letter-spacing="0.6" font-family='"DejaVu Sans","Liberation Sans",sans-serif' font-size="11.60" fill="#000">25</text>
<text x="377.10" y="296.40" textLength="65.40" lengthAdjust="spacing" font-family='"Liberation Sans","Noto Sans CJK JP",sans-serif' font-size="13.60" font-weight="bold" fill="#fff">ずつ変える</text>
<path d="M248.80,312.10 L256.90,312.10 L259.00,316.10 L268.80,316.10 L271.10,312.10 L408.20,312.10 L410.70,314.60 L410.70,337.00 L408.20,339.50 L271.10,339.50 L268.90,343.60 L258.80,343.60 L256.70,339.50 L248.80,339.50 L246.30,337.00 L246.30,314.60Z" fill="#8a55d7"/>
<path d="M246.90,337.70 L246.90,315.30 L249.40,312.80 L257.50,312.80 M271.90,312.80 L408.20,312.80" fill="none" stroke="#b48cf0" stroke-width="1.3" stroke-opacity="0.8" stroke-linejoin="round"/>
<path d="M259.30,316.70 L268.50,316.70" fill="none" stroke="#b48cf0" stroke-width="1" stroke-opacity="0.6"/>
<path d="M410.10,314.00 L410.10,336.40 L407.60,338.90 L270.50,338.90 L268.30,343.00 L258.20,343.00 L256.10,338.90 L248.20,338.90 L245.70,336.40" fill="none" stroke="#6a3db0" stroke-width="1.2" stroke-linejoin="round"/>
<rect x="251.60" y="318.20" width="31.20" height="18.60" fill="#7a4bbf"/>
<path d="M252.20,336.80 V318.80 H282.80" fill="none" stroke="#5f3a9c" stroke-width="1.2"/>
<path d="M252.60,336.30 H282.30 V319.20" fill="none" stroke="#b89af0" stroke-width="1"/>
<path d="M271.60,323.00 h7.40 l-3.70,4.20 Z" fill="#403c3c"/>
<text x="254.50" y="330.60" textLength="15.00" lengthAdjust="spacing" font-family='"Liberation Sans","Noto Sans CJK JP",sans-serif' font-size="13.60" font-weight="350" fill="#fff">色</text>
<text x="286.50" y="331.40" textLength="55.80" lengthAdjust="spacing" font-family='"Liberation Sans","Noto Sans CJK JP",sans-serif' font-size="13.60" font-weight="bold" fill="#fff">の効果を</text>
<rect x="348.20" y="318.85" width="14.80" height="17.50" rx="6.50" ry="6.50" fill="#fff"/>
<text x="355.60" y="331.83" text-anchor="middle" letter-spacing="0.6" font-family='"DejaVu Sans","Liberation Sans",sans-serif' font-size="11.60" fill="#000">0</text>
<text x="368.50" y="331.40" textLength="37.40" lengthAdjust="spacing" font-family='"Liberation Sans","Noto Sans CJK JP",sans-serif' font-size="13.60" font-weight="bold" fill="#fff">にする</text>
<path d="M248.80,347.10 L256.90,347.10 L259.00,351.10 L268.80,351.10 L271.10,347.10 L364.70,347.10 L367.20,349.60 L367.20,365.90 L364.70,368.40 L271.10,368.40 L268.90,372.50 L258.80,372.50 L256.70,368.40 L248.80,368.40 L246.30,365.90 L246.30,349.60Z" fill="#8a55d7"/>
<path d="M246.90,366.60 L246.90,350.30 L249.40,347.80 L257.50,347.80 M271.90,347.80 L364.70,347.80" fill="none" stroke="#b48cf0" stroke-width="1.3" stroke-opacity="0.8" stroke-linejoin="round"/>
<path d="M259.30,351.70 L268.50,351.70" fill="none" stroke="#b48cf0" stroke-width="1" stroke-opacity="0.6"/>
<path d="M366.60,349.00 L366.60,365.30 L364.10,367.80 L270.50,367.80 L268.30,371.90 L258.20,371.90 L256.10,367.80 L248.20,367.80 L245.70,365.30" fill="none" stroke="#6a3db0" stroke-width="1.2" stroke-linejoin="round"/>
<text x="251.10" y="362.40" textLength="111.50" lengthAdjust="spacing" font-family='"Liberation Sans","Noto Sans CJK JP",sans-serif' font-size="13.60" font-weight="bold" fill="#fff">画像効果をなくす</text>
<path d="M248.80,391.20 L256.90,391.20 L259.00,395.20 L268.80,395.20 L271.10,391.20 L403.50,391.20 L406.00,393.70 L406.00,411.90 L403.50,414.40 L271.10,414.40 L268.90,418.50 L258.80,418.50 L256.70,414.40 L248.80,414.40 L246.30,411.90 L246.30,393.70Z" fill="#8a55d7"/>
<path d="M246.90,412.60 L246.90,394.40 L249.40,391.90 L257.50,391.90 M271.90,391.90 L403.50,391.90" fill="none" stroke="#b48cf0" stroke-width="1.3" stroke-opacity="0.8" stroke-linejoin="round"/>
<path d="M259.30,395.80 L268.50,395.80" fill="none" stroke="#b48cf0" stroke-width="1" stroke-opacity="0.6"/>
<path d="M405.40,393.10 L405.40,411.30 L402.90,413.80 L270.50,413.80 L268.30,417.90 L258.20,417.90 L256.10,413.80 L248.20,413.80 L245.70,411.30" fill="none" stroke="#6a3db0" stroke-width="1.2" stroke-linejoin="round"/>
<text x="251.10" y="407.80" textLength="49.50" lengthAdjust="spacing" font-family='"Liberation Sans","Noto Sans CJK JP",sans-serif' font-size="13.60" font-weight="bold" fill="#fff">大きさを</text>
<rect x="306.60" y="394.85" width="23.10" height="17.50" rx="6.50" ry="6.50" fill="#fff"/>
<text x="318.15" y="407.83" text-anchor="middle" letter-spacing="0.6" font-family='"DejaVu Sans","Liberation Sans",sans-serif' font-size="11.60" fill="#000">10</text>
<text x="335.50" y="407.80" textLength="65.70" lengthAdjust="spacing" font-family='"Liberation Sans","Noto Sans CJK JP",sans-serif' font-size="13.60" font-weight="bold" fill="#fff">ずつ変える</text>
<path d="M248.80,422.30 L256.90,422.30 L259.00,426.30 L268.80,426.30 L271.10,422.30 L395.50,422.30 L398.00,424.80 L398.00,443.00 L395.50,445.50 L271.10,445.50 L268.90,449.60 L258.80,449.60 L256.70,445.50 L248.80,445.50 L246.30,443.00 L246.30,424.80Z" fill="#8a55d7"/>
<path d="M246.90,443.70 L246.90,425.50 L249.40,423.00 L257.50,423.00 M271.90,423.00 L395.50,423.00" fill="none" stroke="#b48cf0" stroke-width="1.3" stroke-opacity="0.8" stroke-linejoin="round"/>
<path d="M259.30,426.90 L268.50,426.90" fill="none" stroke="#b48cf0" stroke-width="1" stroke-opacity="0.6"/>
<path d="M397.40,424.20 L397.40,442.40 L394.90,444.90 L270.50,444.90 L268.30,449.00 L258.20,449.00 L256.10,444.90 L248.20,444.90 L245.70,442.40" fill="none" stroke="#6a3db0" stroke-width="1.2" stroke-linejoin="round"/>
<text x="251.10" y="438.90" textLength="49.50" lengthAdjust="spacing" font-family='"Liberation Sans","Noto Sans CJK JP",sans-serif' font-size="13.60" font-weight="bold" fill="#fff">大きさを</text>
<rect x="306.60" y="425.95" width="23.10" height="17.50" rx="6.50" ry="6.50" fill="#fff"/>
<text x="318.15" y="438.93" text-anchor="middle" letter-spacing="0.6" font-family='"DejaVu Sans","Liberation Sans",sans-serif' font-size="11.60" fill="#000">50</text>
<text x="335.50" y="438.90" textLength="13.70" lengthAdjust="spacing" font-family='"Liberation Sans","Noto Sans CJK JP",sans-serif' font-size="13.60" font-weight="bold" fill="#fff">%</text>
<text x="355.10" y="438.90" textLength="38.00" lengthAdjust="spacing" font-family='"Liberation Sans","Noto Sans CJK JP",sans-serif' font-size="13.60" font-weight="bold" fill="#fff">にする</text>
<rect x="263.80" y="453.30" width="48.40" height="19.90" rx="9.95" fill="#8a55d7"/>
<path d="M264.50,463.25 A9.25,9.25 0 0 1 273.75,454.00 H302.25" fill="none" stroke="#b48cf0" stroke-width="1.3"/>
<path d="M273.75,472.60 H302.25 A9.35,9.35 0 0 0 311.60,463.25" fill="none" stroke="#6a3db0" stroke-width="1.2"/>
<text x="269.50" y="467.95" textLength="39.20" lengthAdjust="spacing" font-family='"Liberation Sans","Noto Sans CJK JP",sans-serif' font-size="13.60" font-weight="bold" fill="#fff">大きさ</text>
<rect x="246.75" y="458.05" width="11.70" height="10.40" fill="url(#cbg)" stroke="#e4e2e2" stroke-width="1.1"/>
<path d="M247.80,467.80 V459.10 H257.80" fill="none" stroke="#b9b6b6" stroke-width="1"/>
<path d="M248.80,491.20 L256.90,491.20 L259.00,495.20 L268.80,495.20 L271.10,491.20 L310.10,491.20 L312.60,493.70 L312.60,510.00 L310.10,512.50 L271.10,512.50 L268.90,516.60 L258.80,516.60 L256.70,512.50 L248.80,512.50 L246.30,510.00 L246.30,493.70Z" fill="#8a55d7"/>
<path d="M246.90,510.70 L246.90,494.40 L249.40,491.90 L257.50,491.90 M271.90,491.90 L310.10,491.90" fill="none" stroke="#b48cf0" stroke-width="1.3" stroke-opacity="0.8" stroke-linejoin="round"/>
<path d="M259.30,495.80 L268.50,495.80" fill="none" stroke="#b48cf0" stroke-width="1" stroke-opacity="0.6"/>
<path d="M312.00,493.10 L312.00,509.40 L309.50,511.90 L270.50,511.90 L268.30,516.00 L258.20,516.00 L256.10,511.90 L248.20,511.90 L245.70,509.40" fill="none" stroke="#6a3db0" stroke-width="1.2" stroke-linejoin="round"/>
<text x="251.10" y="506.50" textLength="57.20" lengthAdjust="spacing" font-family='"Liberation Sans","Noto Sans CJK JP",sans-serif' font-size="13.60" font-weight="bold" fill="#fff">表示する</text>
<path d="M248.80,520.00 L256.90,520.00 L259.00,524.00 L268.80,524.00 L271.10,520.00 L281.90,520.00 L284.40,522.50 L284.40,538.80 L281.90,541.30 L271.10,541.30 L268.90,545.40 L258.80,545.40 L256.70,541.30 L248.80,541.30 L246.30,538.80 L246.30,522.50Z" fill="#8a55d7"/>
<path d="M246.90,539.50 L246.90,523.20 L249.40,520.70 L257.50,520.70 M271.90,520.70 L281.90,520.70" fill="none" stroke="#b48cf0" stroke-width="1.3" stroke-opacity="0.8" stroke-linejoin="round"/>
<path d="M259.30,524.60 L268.50,524.60" fill="none" stroke="#b48cf0" stroke-width="1" stroke-opacity="0.6"/>
<path d="M283.80,521.90 L283.80,538.20 L281.30,540.70 L270.50,540.70 L268.30,544.80 L258.20,544.80 L256.10,540.70 L248.20,540.70 L245.70,538.20" fill="none" stroke="#6a3db0" stroke-width="1.2" stroke-linejoin="round"/>
<text x="251.10" y="535.30" textLength="28.70" lengthAdjust="spacing" font-family='"Liberation Sans","Noto Sans CJK JP",sans-serif' font-size="13.60" font-weight="bold" fill="#fff">隠す</text>
<path d="M248.80,564.40 L256.90,564.40 L259.00,568.40 L268.80,568.40 L271.10,564.40 L311.00,564.40 L313.50,566.90 L313.50,583.20 L311.00,585.70 L271.10,585.70 L268.90,589.80 L258.80,589.80 L256.70,585.70 L248.80,585.70 L246.30,583.20 L246.30,566.90Z" fill="#8a55d7"/>
<path d="M246.90,583.90 L246.90,567.60 L249.40,565.10 L257.50,565.10 M271.90,565.10 L311.00,565.10" fill="none" stroke="#b48cf0" stroke-width="1.3" stroke-opacity="0.8" stroke-linejoin="round"/>
<path d="M259.30,569.00 L268.50,569.00" fill="none" stroke="#b48cf0" stroke-width="1" stroke-opacity="0.6"/>
<path d="M312.90,566.30 L312.90,582.60 L310.40,585.10 L270.50,585.10 L268.30,589.20 L258.20,589.20 L256.10,585.10 L248.20,585.10 L245.70,582.60" fill="none" stroke="#6a3db0" stroke-width="1.2" stroke-linejoin="round"/>
<text x="251.50" y="579.70" textLength="57.90" lengthAdjust="spacing" font-family='"Liberation Sans","Noto Sans CJK JP",sans-serif' font-size="13.60" font-weight="bold" fill="#fff">前に出す</text>
<path d="M248.80,594.80 L256.90,594.80 L259.00,598.80 L268.80,598.80 L271.10,594.80 L349.20,594.80 L351.70,597.30 L351.70,616.30 L349.20,618.80 L271.10,618.80 L268.90,622.90 L258.80,622.90 L256.70,618.80 L248.80,618.80 L246.30,616.30 L246.30,597.30Z" fill="#8a55d7"/>
<path d="M246.90,617.00 L246.90,598.00 L249.40,595.50 L257.50,595.50 M271.90,595.50 L349.20,595.50" fill="none" stroke="#b48cf0" stroke-width="1.3" stroke-opacity="0.8" stroke-linejoin="round"/>
<path d="M259.30,599.40 L268.50,599.40" fill="none" stroke="#b48cf0" stroke-width="1" stroke-opacity="0.6"/>
<path d="M351.10,596.70 L351.10,615.70 L348.60,618.20 L270.50,618.20 L268.30,622.30 L258.20,622.30 L256.10,618.20 L248.20,618.20 L245.70,615.70" fill="none" stroke="#6a3db0" stroke-width="1.2" stroke-linejoin="round"/>
<rect x="421.7" y="27.4" width="13.8" height="556" rx="6.9" fill="#b4b8bc" fill-opacity="0.32"/>
<rect x="422.8" y="28.6" width="11.6" height="493" rx="5.8" fill="#30343a" fill-opacity="0.25"/>
<rect x="424" y="29.5" width="9.2" height="490.5" rx="4.6" fill="url(#vg)"/>
<rect x="230" y="583.6" width="189.5" height="16.6" rx="8" fill="#ffffff" fill-opacity="0.15"/>
<path d="M244,584.2 H412" stroke="#22262a" stroke-opacity="0.45" stroke-width="1.4" fill="none"/>
<rect x="246.2" y="585.5" width="143.8" height="11.4" rx="5.7" fill="#30343a" fill-opacity="0.3"/>
<rect x="247.00" y="586.40" width="142.20" height="8.80" rx="4.40" fill="url(#tg)"/>
</g>
<rect x="466" y="15" width="197.6" height="580.6" fill="#7c8084"/>
<rect x="466" y="16" width="197.6" height="2" fill="#2e3032"/>
<rect x="466" y="18" width="197.6" height="1" fill="#66696c"/>
<rect x="466" y="16" width="1.5" height="579.6" fill="#2e3032"/>
<rect x="467.5" y="18" width="1.2" height="577.6" fill="#5e6164"/>
<clipPath id="cp3"><rect x="467" y="18" width="196.6" height="577.6"/></clipPath>
<g clip-path="url(#cp3)">
<path d="M472.00,27.30 L480.10,27.30 L482.20,31.30 L492.00,31.30 L494.30,27.30 L583.10,27.30 L585.60,29.80 L585.60,48.80 L583.10,51.30 L494.30,51.30 L492.10,55.40 L482.00,55.40 L479.90,51.30 L472.00,51.30 L469.50,48.80 L469.50,29.80Z" fill="#bb42c3"/>
<path d="M470.10,49.50 L470.10,30.50 L472.60,28.00 L480.70,28.00 M495.10,28.00 L583.10,28.00" fill="none" stroke="#dd7fe6" stroke-width="1.3" stroke-opacity="0.8" stroke-linejoin="round"/>
<path d="M482.50,31.90 L491.70,31.90" fill="none" stroke="#dd7fe6" stroke-width="1" stroke-opacity="0.6"/>
<path d="M585.00,29.20 L585.00,48.20 L582.50,50.70 L493.70,50.70 L491.50,54.80 L481.40,54.80 L479.30,50.70 L471.40,50.70 L468.90,48.20" fill="none" stroke="#9430a0" stroke-width="1.2" stroke-linejoin="round"/>
<rect x="474.30" y="32.70" width="21.50" height="16.20" fill="#a23aa9"/>
<path d="M474.90,48.90 V33.30 H495.80" fill="none" stroke="#862c8d" stroke-width="1.2"/>
<path d="M475.30,48.40 H495.30 V33.70" fill="none" stroke="#e08ae8" stroke-width="1"/>
<path d="M484.60,37.50 h7.40 l-3.70,4.20 Z" fill="#403c3c"/>
<text x="499.30" y="46.60" textLength="81.90" lengthAdjust="spacing" font-family='"Liberation Sans","Noto Sans CJK JP",sans-serif' font-size="13.60" font-weight="bold" fill="#fff">の音を鳴らす</text>
<path d="M472.00,59.00 L480.10,59.00 L482.20,63.00 L492.00,63.00 L494.30,59.00 L653.60,59.00 L656.10,61.50 L656.10,77.80 L653.60,80.30 L494.30,80.30 L492.10,84.40 L482.00,84.40 L479.90,80.30 L472.00,80.30 L469.50,77.80 L469.50,61.50Z" fill="#bb42c3"/>
<path d="M470.10,78.50 L470.10,62.20 L472.60,59.70 L480.70,59.70 M495.10,59.70 L653.60,59.70" fill="none" stroke="#dd7fe6" stroke-width="1.3" stroke-opacity="0.8" stroke-linejoin="round"/>
<path d="M482.50,63.60 L491.70,63.60" fill="none" stroke="#dd7fe6" stroke-width="1" stroke-opacity="0.6"/>
<path d="M655.50,60.90 L655.50,77.20 L653.00,79.70 L493.70,79.70 L491.50,83.80 L481.40,83.80 L479.30,79.70 L471.40,79.70 L468.90,77.20" fill="none" stroke="#9430a0" stroke-width="1.2" stroke-linejoin="round"/>
<text x="474.70" y="74.30" textLength="65.60" lengthAdjust="spacing" font-family='"Liberation Sans","Noto Sans CJK JP",sans-serif' font-size="13.60" font-weight="bold" fill="#fff">終わるまで</text>
<rect x="545.10" y="62.70" width="21.70" height="14.80" fill="#a23aa9"/>
<path d="M545.70,77.50 V63.30 H566.80" fill="none" stroke="#862c8d" stroke-width="1.2"/>
<path d="M546.10,77.00 H566.30 V63.70" fill="none" stroke="#e08ae8" stroke-width="1"/>
<path d="M555.60,67.50 h7.40 l-3.70,4.20 Z" fill="#403c3c"/>
<text x="570.50" y="74.30" textLength="81.50" lengthAdjust="spacing" font-family='"Liberation Sans","Noto Sans CJK JP",sans-serif' font-size="13.60" font-weight="bold" fill="#fff">の音を鳴らす</text>
<path d="M472.00,88.20 L480.10,88.20 L482.20,92.20 L492.00,92.20 L494.30,88.20 L597.00,88.20 L599.50,90.70 L599.50,107.00 L597.00,109.50 L494.30,109.50 L492.10,113.60 L482.00,113.60 L479.90,109.50 L472.00,109.50 L469.50,107.00 L469.50,90.70Z" fill="#bb42c3"/>
<path d="M470.10,107.70 L470.10,91.40 L472.60,88.90 L480.70,88.90 M495.10,88.90 L597.00,88.90" fill="none" stroke="#dd7fe6" stroke-width="1.3" stroke-opacity="0.8" stroke-linejoin="round"/>
<path d="M482.50,92.80 L491.70,92.80" fill="none" stroke="#dd7fe6" stroke-width="1" stroke-opacity="0.6"/>
<path d="M598.90,90.10 L598.90,106.40 L596.40,108.90 L493.70,108.90 L491.50,113.00 L481.40,113.00 L479.30,108.90 L471.40,108.90 L468.90,106.40" fill="none" stroke="#9430a0" stroke-width="1.2" stroke-linejoin="round"/>
<text x="473.80" y="103.50" textLength="121.30" lengthAdjust="spacing" font-family='"Liberation Sans","Noto Sans CJK JP",sans-serif' font-size="13.60" font-weight="bold" fill="#fff">すべての音を止める</text>
<path d="M472.00,132.00 L480.10,132.00 L482.20,136.00 L492.00,136.00 L494.30,132.00 L697.50,132.00 L700.00,134.50 L700.00,156.00 L697.50,158.50 L494.30,158.50 L492.10,162.60 L482.00,162.60 L479.90,158.50 L472.00,158.50 L469.50,156.00 L469.50,134.50Z" fill="#bb42c3"/>
<path d="M470.10,156.70 L470.10,135.20 L472.60,132.70 L480.70,132.70 M495.10,132.70 L697.50,132.70" fill="none" stroke="#dd7fe6" stroke-width="1.3" stroke-opacity="0.8" stroke-linejoin="round"/>
<path d="M482.50,136.60 L491.70,136.60" fill="none" stroke="#dd7fe6" stroke-width="1" stroke-opacity="0.6"/>
<path d="M699.40,133.90 L699.40,155.40 L696.90,157.90 L493.70,157.90 L491.50,162.00 L481.40,162.00 L479.30,157.90 L471.40,157.90 L468.90,155.40" fill="none" stroke="#9430a0" stroke-width="1.2" stroke-linejoin="round"/>
<rect x="474.30" y="138.75" width="32.00" height="17.50" rx="6.50" ry="6.50" fill="#fff"/>
<text x="485.80" y="151.73" text-anchor="middle" letter-spacing="0.6" font-family='"DejaVu Sans","Liberation Sans",sans-serif' font-size="11.60" fill="#000">48</text>
<path d="M495.80,144.30 h7.00 l-3.50,4.00 Z" fill="#3a3a3a"/>
<text x="509.90" y="151.30" textLength="59.80" lengthAdjust="spacing" font-family='"Liberation Sans","Noto Sans CJK JP",sans-serif' font-size="13.60" font-weight="bold" fill="#fff">のドラムを</text>
<rect x="576.80" y="138.75" width="27.70" height="17.50" rx="6.50" ry="6.50" fill="#fff"/>
<text x="590.65" y="151.73" text-anchor="middle" letter-spacing="0.6" font-family='"DejaVu Sans","Liberation Sans",sans-serif' font-size="11.60" fill="#000">0.2</text>
<text x="609.80" y="151.30" textLength="55.00" lengthAdjust="spacing" font-family='"Liberation Sans","Noto Sans CJK JP",sans-serif' font-size="13.60" font-weight="bold" fill="#fff">拍鳴らす</text>
<path d="M472.00,165.80 L480.10,165.80 L482.20,169.80 L492.00,169.80 L494.30,165.80 L552.80,165.80 L555.30,168.30 L555.30,189.80 L552.80,192.30 L494.30,192.30 L492.10,196.40 L482.00,196.40 L479.90,192.30 L472.00,192.30 L469.50,189.80 L469.50,168.30Z" fill="#bb42c3"/>
<path d="M470.10,190.50 L470.10,169.00 L472.60,166.50 L480.70,166.50 M495.10,166.50 L552.80,166.50" fill="none" stroke="#dd7fe6" stroke-width="1.3" stroke-opacity="0.8" stroke-linejoin="round"/>
<path d="M482.50,170.40 L491.70,170.40" fill="none" stroke="#dd7fe6" stroke-width="1" stroke-opacity="0.6"/>
<path d="M554.70,167.70 L554.70,189.20 L552.20,191.70 L493.70,191.70 L491.50,195.80 L481.40,195.80 L479.30,191.70 L471.40,191.70 L468.90,189.20" fill="none" stroke="#9430a0" stroke-width="1.2" stroke-linejoin="round"/>
<rect x="474.30" y="172.55" width="28.90" height="17.50" rx="6.50" ry="6.50" fill="#fff"/>
<text x="488.75" y="185.53" text-anchor="middle" letter-spacing="0.6" font-family='"DejaVu Sans","Liberation Sans",sans-serif' font-size="11.60" fill="#000">0.2</text>
<text x="507.60" y="185.10" textLength="42.60" lengthAdjust="spacing" font-family='"Liberation Sans","Noto Sans CJK JP",sans-serif' font-size="13.60" font-weight="bold" fill="#fff">拍休む</text>
<path d="M472.00,214.80 L480.10,214.80 L482.20,218.80 L492.00,218.80 L494.30,214.80 L661.30,214.80 L663.80,217.30 L663.80,238.80 L661.30,241.30 L494.30,241.30 L492.10,245.40 L482.00,245.40 L479.90,241.30 L472.00,241.30 L469.50,238.80 L469.50,217.30Z" fill="#bb42c3"/>
<path d="M470.10,239.50 L470.10,218.00 L472.60,215.50 L480.70,215.50 M495.10,215.50 L661.30,215.50" fill="none" stroke="#dd7fe6" stroke-width="1.3" stroke-opacity="0.8" stroke-linejoin="round"/>
<path d="M482.50,219.40 L491.70,219.40" fill="none" stroke="#dd7fe6" stroke-width="1" stroke-opacity="0.6"/>
<path d="M663.20,216.70 L663.20,238.20 L660.70,240.70 L493.70,240.70 L491.50,244.80 L481.40,244.80 L479.30,240.70 L471.40,240.70 L468.90,238.20" fill="none" stroke="#9430a0" stroke-width="1.2" stroke-linejoin="round"/>
<rect x="474.30" y="221.55" width="32.00" height="17.50" rx="6.50" ry="6.50" fill="#fff"/>
<text x="485.80" y="234.53" text-anchor="middle" letter-spacing="0.6" font-family='"DejaVu Sans","Liberation Sans",sans-serif' font-size="11.60" fill="#000">60</text>
<path d="M495.80,227.10 h7.00 l-3.50,4.00 Z" fill="#3a3a3a"/>
<text x="509.90" y="234.10" textLength="56.50" lengthAdjust="spacing" font-family='"Liberation Sans","Noto Sans CJK JP",sans-serif' font-size="13.60" font-weight="bold" fill="#fff">の音符を</text>
<rect x="572.60" y="221.55" width="27.80" height="17.50" rx="6.50" ry="6.50" fill="#fff"/>
<text x="586.50" y="234.53" text-anchor="middle" letter-spacing="0.6" font-family='"DejaVu Sans","Liberation Sans",sans-serif' font-size="11.60" fill="#000">0.5</text>
<text x="605.70" y="234.10" textLength="54.20" lengthAdjust="spacing" font-family='"Liberation Sans","Noto Sans CJK JP",sans-serif' font-size="13.60" font-weight="bold" fill="#fff">拍鳴らす</text>
<path d="M472.00,249.30 L480.10,249.30 L482.20,253.30 L492.00,253.30 L494.30,249.30 L591.20,249.30 L593.70,251.80 L593.70,270.00 L591.20,272.50 L494.30,272.50 L492.10,276.60 L482.00,276.60 L479.90,272.50 L472.00,272.50 L469.50,270.00 L469.50,251.80Z" fill="#bb42c3"/>
<path d="M470.10,270.70 L470.10,252.50 L472.60,250.00 L480.70,250.00 M495.10,250.00 L591.20,250.00" fill="none" stroke="#dd7fe6" stroke-width="1.3" stroke-opacity="0.8" stroke-linejoin="round"/>
<path d="M482.50,253.90 L491.70,253.90" fill="none" stroke="#dd7fe6" stroke-width="1" stroke-opacity="0.6"/>
<path d="M593.10,251.20 L593.10,269.40 L590.60,271.90 L493.70,271.90 L491.50,276.00 L481.40,276.00 L479.30,271.90 L471.40,271.90 L468.90,269.40" fill="none" stroke="#9430a0" stroke-width="1.2" stroke-linejoin="round"/>
<text x="474.50" y="265.90" textLength="42.20" lengthAdjust="spacing" font-family='"Liberation Sans","Noto Sans CJK JP",sans-serif' font-size="13.60" font-weight="bold" fill="#fff">楽器を</text>
<rect x="522.40" y="252.95" width="23.60" height="17.50" rx="6.50" ry="6.50" fill="#fff"/>
<text x="529.70" y="265.93" text-anchor="middle" letter-spacing="0.6" font-family='"DejaVu Sans","Liberation Sans",sans-serif' font-size="11.60" fill="#000">1</text>
<path d="M535.50,258.50 h7.00 l-3.50,4.00 Z" fill="#3a3a3a"/>
<text x="551.30" y="265.90" textLength="37.60" lengthAdjust="spacing" font-family='"Liberation Sans","Noto Sans CJK JP",sans-serif' font-size="13.60" font-weight="bold" fill="#fff">にする</text>
<path d="M472.00,295.10 L480.10,295.10 L482.20,299.10 L492.00,299.10 L494.30,295.10 L625.90,295.10 L628.40,297.60 L628.40,315.80 L625.90,318.30 L494.30,318.30 L492.10,322.40 L482.00,322.40 L479.90,318.30 L472.00,318.30 L469.50,315.80 L469.50,297.60Z" fill="#bb42c3"/>
<path d="M470.10,316.50 L470.10,298.30 L472.60,295.80 L480.70,295.80 M495.10,295.80 L625.90,295.80" fill="none" stroke="#dd7fe6" stroke-width="1.3" stroke-opacity="0.8" stroke-linejoin="round"/>
<path d="M482.50,299.70 L491.70,299.70" fill="none" stroke="#dd7fe6" stroke-width="1" stroke-opacity="0.6"/>
<path d="M627.80,297.00 L627.80,315.20 L625.30,317.70 L493.70,317.70 L491.50,321.80 L481.40,321.80 L479.30,317.70 L471.40,317.70 L468.90,315.20" fill="none" stroke="#9430a0" stroke-width="1.2" stroke-linejoin="round"/>
<text x="474.50" y="311.70" textLength="42.20" lengthAdjust="spacing" font-family='"Liberation Sans","Noto Sans CJK JP",sans-serif' font-size="13.60" font-weight="bold" fill="#fff">音量を</text>
<rect x="522.40" y="298.75" width="30.10" height="17.50" rx="6.50" ry="6.50" fill="#fff"/>
<text x="537.45" y="311.73" text-anchor="middle" letter-spacing="0.6" font-family='"DejaVu Sans","Liberation Sans",sans-serif' font-size="11.60" fill="#000">-10</text>
<text x="558.50" y="311.70" textLength="65.00" lengthAdjust="spacing" font-family='"Liberation Sans","Noto Sans CJK JP",sans-serif' font-size="13.60" font-weight="bold" fill="#fff">ずつ変える</text>
<path d="M472.00,325.90 L480.10,325.90 L482.20,329.90 L492.00,329.90 L494.30,325.90 L618.70,325.90 L621.20,328.40 L621.20,346.60 L618.70,349.10 L494.30,349.10 L492.10,353.20 L482.00,353.20 L479.90,349.10 L472.00,349.10 L469.50,346.60 L469.50,328.40Z" fill="#bb42c3"/>
<path d="M470.10,347.30 L470.10,329.10 L472.60,326.60 L480.70,326.60 M495.10,326.60 L618.70,326.60" fill="none" stroke="#dd7fe6" stroke-width="1.3" stroke-opacity="0.8" stroke-linejoin="round"/>
<path d="M482.50,330.50 L491.70,330.50" fill="none" stroke="#dd7fe6" stroke-width="1" stroke-opacity="0.6"/>
<path d="M620.60,327.80 L620.60,346.00 L618.10,348.50 L493.70,348.50 L491.50,352.60 L481.40,352.60 L479.30,348.50 L471.40,348.50 L468.90,346.00" fill="none" stroke="#9430a0" stroke-width="1.2" stroke-linejoin="round"/>
<text x="474.50" y="342.50" textLength="42.20" lengthAdjust="spacing" font-family='"Liberation Sans","Noto Sans CJK JP",sans-serif' font-size="13.60" font-weight="bold" fill="#fff">音量を</text>
<rect x="522.40" y="329.55" width="30.80" height="17.50" rx="6.50" ry="6.50" fill="#fff"/>
<text x="537.80" y="342.53" text-anchor="middle" letter-spacing="0.6" font-family='"DejaVu Sans","Liberation Sans",sans-serif' font-size="11.60" fill="#000">100</text>
<text x="558.90" y="342.50" textLength="15.40" lengthAdjust="spacing" font-family='"Liberation Sans","Noto Sans CJK JP",sans-serif' font-size="13.60" font-weight="bold" fill="#fff">%</text>
<text x="579.80" y="342.50" textLength="37.50" lengthAdjust="spacing" font-family='"Liberation Sans","Noto Sans CJK JP",sans-serif' font-size="13.60" font-weight="bold" fill="#fff">にする</text>
<rect x="486.60" y="357.00" width="41.40" height="19.80" rx="9.90" fill="#bb42c3"/>
<path d="M487.30,366.90 A9.20,9.20 0 0 1 496.50,357.70 H518.10" fill="none" stroke="#dd7fe6" stroke-width="1.3"/>
<path d="M496.50,376.20 H518.10 A9.30,9.30 0 0 0 527.40,366.90" fill="none" stroke="#9430a0" stroke-width="1.2"/>
<text x="494.20" y="371.60" textLength="29.20" lengthAdjust="spacing" font-family='"Liberation Sans","Noto Sans CJK JP",sans-serif' font-size="13.60" font-weight="bold" fill="#fff">音量</text>
<rect x="470.25" y="361.55" width="11.60" height="10.50" fill="url(#cbg)" stroke="#e4e2e2" stroke-width="1.1"/>
<path d="M471.30,371.40 V362.60 H481.20" fill="none" stroke="#b9b6b6" stroke-width="1"/>
<path d="M472.00,395.10 L480.10,395.10 L482.20,399.10 L492.00,399.10 L494.30,395.10 L624.00,395.10 L626.50,397.60 L626.50,415.80 L624.00,418.30 L494.30,418.30 L492.10,422.40 L482.00,422.40 L479.90,418.30 L472.00,418.30 L469.50,415.80 L469.50,397.60Z" fill="#bb42c3"/>
<path d="M470.10,416.50 L470.10,398.30 L472.60,395.80 L480.70,395.80 M495.10,395.80 L624.00,395.80" fill="none" stroke="#dd7fe6" stroke-width="1.3" stroke-opacity="0.8" stroke-linejoin="round"/>
<path d="M482.50,399.70 L491.70,399.70" fill="none" stroke="#dd7fe6" stroke-width="1" stroke-opacity="0.6"/>
<path d="M625.90,397.00 L625.90,415.20 L623.40,417.70 L493.70,417.70 L491.50,421.80 L481.40,421.80 L479.30,417.70 L471.40,417.70 L468.90,415.20" fill="none" stroke="#9430a0" stroke-width="1.2" stroke-linejoin="round"/>
<text x="473.40" y="411.70" textLength="47.70" lengthAdjust="spacing" font-family='"Liberation Sans","Noto Sans CJK JP",sans-serif' font-size="13.60" font-weight="bold" fill="#fff">テンポを</text>
<rect x="527.50" y="398.75" width="22.20" height="17.50" rx="6.50" ry="6.50" fill="#fff"/>
<text x="538.60" y="411.73" text-anchor="middle" letter-spacing="0.6" font-family='"DejaVu Sans","Liberation Sans",sans-serif' font-size="11.60" fill="#000">20</text>
<text x="556.20" y="411.70" textLength="65.70" lengthAdjust="spacing" font-family='"Liberation Sans","Noto Sans CJK JP",sans-serif' font-size="13.60" font-weight="bold" fill="#fff">ずつ変える</text>
<path d="M472.00,425.90 L480.10,425.90 L482.20,429.90 L492.00,429.90 L494.30,425.90 L625.90,425.90 L628.40,428.40 L628.40,446.60 L625.90,449.10 L494.30,449.10 L492.10,453.20 L482.00,453.20 L479.90,449.10 L472.00,449.10 L469.50,446.60 L469.50,428.40Z" fill="#bb42c3"/>
<path d="M470.10,447.30 L470.10,429.10 L472.60,426.60 L480.70,426.60 M495.10,426.60 L625.90,426.60" fill="none" stroke="#dd7fe6" stroke-width="1.3" stroke-opacity="0.8" stroke-linejoin="round"/>
<path d="M482.50,430.50 L491.70,430.50" fill="none" stroke="#dd7fe6" stroke-width="1" stroke-opacity="0.6"/>
<path d="M627.80,427.80 L627.80,446.00 L625.30,448.50 L493.70,448.50 L491.50,452.60 L481.40,452.60 L479.30,448.50 L471.40,448.50 L468.90,446.00" fill="none" stroke="#9430a0" stroke-width="1.2" stroke-linejoin="round"/>
<text x="473.40" y="442.50" textLength="47.70" lengthAdjust="spacing" font-family='"Liberation Sans","Noto Sans CJK JP",sans-serif' font-size="13.60" font-weight="bold" fill="#fff">テンポを</text>
<rect x="527.50" y="429.55" width="22.20" height="17.50" rx="6.50" ry="6.50" fill="#fff"/>
<text x="538.60" y="442.53" text-anchor="middle" letter-spacing="0.6" font-family='"DejaVu Sans","Liberation Sans",sans-serif' font-size="11.60" fill="#000">60</text>
<text x="555.00" y="442.50" textLength="69.20" lengthAdjust="spacing" font-family='"Liberation Sans","Noto Sans CJK JP",sans-serif' font-size="13.60" font-weight="bold" fill="#fff">BPMにする</text>
<rect x="486.60" y="456.90" width="46.20" height="20.30" rx="10.15" fill="#bb42c3"/>
<path d="M487.30,467.05 A9.45,9.45 0 0 1 496.75,457.60 H522.65" fill="none" stroke="#dd7fe6" stroke-width="1.3"/>
<path d="M496.75,476.60 H522.65 A9.55,9.55 0 0 0 532.20,467.05" fill="none" stroke="#9430a0" stroke-width="1.2"/>
<text x="491.20" y="471.75" textLength="38.20" lengthAdjust="spacing" font-family='"Liberation Sans","Noto Sans CJK JP",sans-serif' font-size="13.60" font-weight="bold" fill="#fff">テンポ</text>
<rect x="470.25" y="461.55" width="11.60" height="10.50" fill="url(#cbg)" stroke="#e4e2e2" stroke-width="1.1"/>
<path d="M471.30,471.40 V462.60 H481.20" fill="none" stroke="#b9b6b6" stroke-width="1"/>
<path d="M466,583.5 H648 Q655,583.5 655,590.5 V596 H466 Z" fill="#909396"/>
<path d="M467,584 H650" stroke="#5c5f62" stroke-width="1" fill="none"/>
<rect x="469.90" y="585.80" width="165.10" height="9.20" rx="4.60" fill="url(#tg)"/>
</g>
<rect x="686.6" y="588.5" width="199" height="10" fill="#eef1f4"/>
<path d="M686.6,15 H885.6 V589.5 Q885.6,598.5 876.6,598.5 H695.6 Q686.6,598.5 686.6,589.5 Z" fill="#7c8084"/>
<rect x="686.6" y="15" width="1.4" height="574.5" fill="#3a3c3e"/>
<rect x="688" y="15" width="1.2" height="574.5" fill="#65686b"/>
<clipPath id="cp4"><rect x="686.6" y="15" width="199" height="583.5"/></clipPath>
<g clip-path="url(#cp4)">
<path d="M692.70,23.70 L700.80,23.70 L702.90,27.70 L712.70,27.70 L715.00,23.70 L726.10,23.70 L728.60,26.20 L728.60,42.50 L726.10,45.00 L715.00,45.00 L712.80,49.10 L702.70,49.10 L700.60,45.00 L692.70,45.00 L690.20,42.50 L690.20,26.20Z" fill="#0e9a6c"/>
<path d="M690.80,43.20 L690.80,26.90 L693.30,24.40 L701.40,24.40 M715.80,24.40 L726.10,24.40" fill="none" stroke="#4fc49a" stroke-width="1.3" stroke-opacity="0.8" stroke-linejoin="round"/>
<path d="M703.20,28.30 L712.40,28.30" fill="none" stroke="#4fc49a" stroke-width="1" stroke-opacity="0.6"/>
<path d="M728.00,25.60 L728.00,41.90 L725.50,44.40 L714.40,44.40 L712.20,48.50 L702.10,48.50 L700.00,44.40 L692.10,44.40 L689.60,41.90" fill="none" stroke="#09724f" stroke-width="1.2" stroke-linejoin="round"/>
<text x="694.50" y="39.00" textLength="29.50" lengthAdjust="spacing" font-family='"Liberation Sans","Noto Sans CJK JP",sans-serif' font-size="13.60" font-weight="bold" fill="#fff">消す</text>
<path d="M692.70,67.60 L700.80,67.60 L702.90,71.60 L712.70,71.60 L715.00,67.60 L775.10,67.60 L777.60,70.10 L777.60,86.40 L775.10,88.90 L715.00,88.90 L712.80,93.00 L702.70,93.00 L700.60,88.90 L692.70,88.90 L690.20,86.40 L690.20,70.10Z" fill="#0e9a6c"/>
<path d="M690.80,87.10 L690.80,70.80 L693.30,68.30 L701.40,68.30 M715.80,68.30 L775.10,68.30" fill="none" stroke="#4fc49a" stroke-width="1.3" stroke-opacity="0.8" stroke-linejoin="round"/>
<path d="M703.20,72.20 L712.40,72.20" fill="none" stroke="#4fc49a" stroke-width="1" stroke-opacity="0.6"/>
<path d="M777.00,69.50 L777.00,85.80 L774.50,88.30 L714.40,88.30 L712.20,92.40 L702.10,92.40 L700.00,88.30 L692.10,88.30 L689.60,85.80" fill="none" stroke="#09724f" stroke-width="1.2" stroke-linejoin="round"/>
<text x="694.50" y="82.90" textLength="78.50" lengthAdjust="spacing" font-family='"Liberation Sans","Noto Sans CJK JP",sans-serif' font-size="13.60" font-weight="bold" fill="#fff">ペンを下ろす</text>
<path d="M692.70,96.60 L700.80,96.60 L702.90,100.60 L712.70,100.60 L715.00,96.60 L774.20,96.60 L776.70,99.10 L776.70,115.40 L774.20,117.90 L715.00,117.90 L712.80,122.00 L702.70,122.00 L700.60,117.90 L692.70,117.90 L690.20,115.40 L690.20,99.10Z" fill="#0e9a6c"/>
<path d="M690.80,116.10 L690.80,99.80 L693.30,97.30 L701.40,97.30 M715.80,97.30 L774.20,97.30" fill="none" stroke="#4fc49a" stroke-width="1.3" stroke-opacity="0.8" stroke-linejoin="round"/>
<path d="M703.20,101.20 L712.40,101.20" fill="none" stroke="#4fc49a" stroke-width="1" stroke-opacity="0.6"/>
<path d="M776.10,98.50 L776.10,114.80 L773.60,117.30 L714.40,117.30 L712.20,121.40 L702.10,121.40 L700.00,117.30 L692.10,117.30 L689.60,114.80" fill="none" stroke="#09724f" stroke-width="1.2" stroke-linejoin="round"/>
<text x="694.50" y="111.90" textLength="77.40" lengthAdjust="spacing" font-family='"Liberation Sans","Noto Sans CJK JP",sans-serif' font-size="13.60" font-weight="bold" fill="#fff">ペンを上げる</text>
<path d="M692.70,141.10 L700.80,141.10 L702.90,145.10 L712.70,145.10 L715.00,141.10 L822.50,141.10 L825.00,143.60 L825.00,159.90 L822.50,162.40 L715.00,162.40 L712.80,166.50 L702.70,166.50 L700.60,162.40 L692.70,162.40 L690.20,159.90 L690.20,143.60Z" fill="#0e9a6c"/>
<path d="M690.80,160.60 L690.80,144.30 L693.30,141.80 L701.40,141.80 M715.80,141.80 L822.50,141.80" fill="none" stroke="#4fc49a" stroke-width="1.3" stroke-opacity="0.8" stroke-linejoin="round"/>
<path d="M703.20,145.70 L712.40,145.70" fill="none" stroke="#4fc49a" stroke-width="1" stroke-opacity="0.6"/>
<path d="M824.40,143.00 L824.40,159.30 L821.90,161.80 L714.40,161.80 L712.20,165.90 L702.10,165.90 L700.00,161.80 L692.10,161.80 L689.60,159.30" fill="none" stroke="#09724f" stroke-width="1.2" stroke-linejoin="round"/>
<text x="694.50" y="156.40" textLength="65.80" lengthAdjust="spacing" font-family='"Liberation Sans","Noto Sans CJK JP",sans-serif' font-size="13.60" font-weight="bold" fill="#fff">ペンの色を</text>
<rect x="765.60" y="145.40" width="11.70" height="12.10" fill="#38207c" stroke="#2a1560" stroke-width="0.6"/>
<text x="782.00" y="156.40" textLength="38.40" lengthAdjust="spacing" font-family='"Liberation Sans","Noto Sans CJK JP",sans-serif' font-size="13.60" font-weight="bold" fill="#fff">にする</text>
<path d="M692.70,170.00 L700.80,170.00 L702.90,174.00 L712.70,174.00 L715.00,170.00 L862.50,170.00 L865.00,172.50 L865.00,190.70 L862.50,193.20 L715.00,193.20 L712.80,197.30 L702.70,197.30 L700.60,193.20 L692.70,193.20 L690.20,190.70 L690.20,172.50Z" fill="#0e9a6c"/>
<path d="M690.80,191.40 L690.80,173.20 L693.30,170.70 L701.40,170.70 M715.80,170.70 L862.50,170.70" fill="none" stroke="#4fc49a" stroke-width="1.3" stroke-opacity="0.8" stroke-linejoin="round"/>
<path d="M703.20,174.60 L712.40,174.60" fill="none" stroke="#4fc49a" stroke-width="1" stroke-opacity="0.6"/>
<path d="M864.40,171.90 L864.40,190.10 L861.90,192.60 L714.40,192.60 L712.20,196.70 L702.10,196.70 L700.00,192.60 L692.10,192.60 L689.60,190.10" fill="none" stroke="#09724f" stroke-width="1.2" stroke-linejoin="round"/>
<text x="694.50" y="186.60" textLength="65.80" lengthAdjust="spacing" font-family='"Liberation Sans","Noto Sans CJK JP",sans-serif' font-size="13.60" font-weight="bold" fill="#fff">ペンの色を</text>
<rect x="765.60" y="173.65" width="22.40" height="17.50" rx="6.50" ry="6.50" fill="#fff"/>
<text x="776.80" y="186.63" text-anchor="middle" letter-spacing="0.6" font-family='"DejaVu Sans","Liberation Sans",sans-serif' font-size="11.60" fill="#000">10</text>
<text x="794.40" y="186.60" textLength="65.80" lengthAdjust="spacing" font-family='"Liberation Sans","Noto Sans CJK JP",sans-serif' font-size="13.60" font-weight="bold" fill="#fff">ずつ変える</text>
<path d="M692.70,200.70 L700.80,200.70 L702.90,204.70 L712.70,204.70 L715.00,200.70 L824.80,200.70 L827.30,203.20 L827.30,221.40 L824.80,223.90 L715.00,223.90 L712.80,228.00 L702.70,228.00 L700.60,223.90 L692.70,223.90 L690.20,221.40 L690.20,203.20Z" fill="#0e9a6c"/>
<path d="M690.80,222.10 L690.80,203.90 L693.30,201.40 L701.40,201.40 M715.80,201.40 L824.80,201.40" fill="none" stroke="#4fc49a" stroke-width="1.3" stroke-opacity="0.8" stroke-linejoin="round"/>
<path d="M703.20,205.30 L712.40,205.30" fill="none" stroke="#4fc49a" stroke-width="1" stroke-opacity="0.6"/>
<path d="M826.70,202.60 L826.70,220.80 L824.20,223.30 L714.40,223.30 L712.20,227.40 L702.10,227.40 L700.00,223.30 L692.10,223.30 L689.60,220.80" fill="none" stroke="#09724f" stroke-width="1.2" stroke-linejoin="round"/>
<text x="694.50" y="217.30" textLength="65.80" lengthAdjust="spacing" font-family='"Liberation Sans","Noto Sans CJK JP",sans-serif' font-size="13.60" font-weight="bold" fill="#fff">ペンの色を</text>
<rect x="765.60" y="204.35" width="15.00" height="17.50" rx="6.50" ry="6.50" fill="#fff"/>
<text x="773.10" y="217.33" text-anchor="middle" letter-spacing="0.6" font-family='"DejaVu Sans","Liberation Sans",sans-serif' font-size="11.60" fill="#000">0</text>
<text x="785.90" y="217.30" textLength="36.80" lengthAdjust="spacing" font-family='"Liberation Sans","Noto Sans CJK JP",sans-serif' font-size="13.60" font-weight="bold" fill="#fff">にする</text>
<path d="M692.70,247.10 L700.80,247.10 L702.90,251.10 L712.70,251.10 L715.00,247.10 L873.50,247.10 L876.00,249.60 L876.00,267.80 L873.50,270.30 L715.00,270.30 L712.80,274.40 L702.70,274.40 L700.60,270.30 L692.70,270.30 L690.20,267.80 L690.20,249.60Z" fill="#0e9a6c"/>
<path d="M690.80,268.50 L690.80,250.30 L693.30,247.80 L701.40,247.80 M715.80,247.80 L873.50,247.80" fill="none" stroke="#4fc49a" stroke-width="1.3" stroke-opacity="0.8" stroke-linejoin="round"/>
<path d="M703.20,251.70 L712.40,251.70" fill="none" stroke="#4fc49a" stroke-width="1" stroke-opacity="0.6"/>
<path d="M875.40,249.00 L875.40,267.20 L872.90,269.70 L714.40,269.70 L712.20,273.80 L702.10,273.80 L700.00,269.70 L692.10,269.70 L689.60,267.20" fill="none" stroke="#09724f" stroke-width="1.2" stroke-linejoin="round"/>
<text x="694.50" y="263.70" textLength="76.20" lengthAdjust="spacing" font-family='"Liberation Sans","Noto Sans CJK JP",sans-serif' font-size="13.60" font-weight="bold" fill="#fff">ペンの濃さを</text>
<rect x="776.70" y="250.75" width="22.90" height="17.50" rx="6.50" ry="6.50" fill="#fff"/>
<text x="788.15" y="263.73" text-anchor="middle" letter-spacing="0.6" font-family='"DejaVu Sans","Liberation Sans",sans-serif' font-size="11.60" fill="#000">10</text>
<text x="805.50" y="263.70" textLength="65.80" lengthAdjust="spacing" font-family='"Liberation Sans","Noto Sans CJK JP",sans-serif' font-size="13.60" font-weight="bold" fill="#fff">ずつ変える</text>
<path d="M692.70,278.00 L700.80,278.00 L702.90,282.00 L712.70,282.00 L715.00,278.00 L844.00,278.00 L846.50,280.50 L846.50,298.70 L844.00,301.20 L715.00,301.20 L712.80,305.30 L702.70,305.30 L700.60,301.20 L692.70,301.20 L690.20,298.70 L690.20,280.50Z" fill="#0e9a6c"/>
<path d="M690.80,299.40 L690.80,281.20 L693.30,278.70 L701.40,278.70 M715.80,278.70 L844.00,278.70" fill="none" stroke="#4fc49a" stroke-width="1.3" stroke-opacity="0.8" stroke-linejoin="round"/>
<path d="M703.20,282.60 L712.40,282.60" fill="none" stroke="#4fc49a" stroke-width="1" stroke-opacity="0.6"/>
<path d="M845.90,279.90 L845.90,298.10 L843.40,300.60 L714.40,300.60 L712.20,304.70 L702.10,304.70 L700.00,300.60 L692.10,300.60 L689.60,298.10" fill="none" stroke="#09724f" stroke-width="1.2" stroke-linejoin="round"/>
<text x="694.50" y="294.60" textLength="76.20" lengthAdjust="spacing" font-family='"Liberation Sans","Noto Sans CJK JP",sans-serif' font-size="13.60" font-weight="bold" fill="#fff">ペンの濃さを</text>
<rect x="776.70" y="281.65" width="22.90" height="17.50" rx="6.50" ry="6.50" fill="#fff"/>
<text x="788.15" y="294.63" text-anchor="middle" letter-spacing="0.6" font-family='"DejaVu Sans","Liberation Sans",sans-serif' font-size="11.60" fill="#000">50</text>
<text x="804.40" y="294.60" textLength="37.50" lengthAdjust="spacing" font-family='"Liberation Sans","Noto Sans CJK JP",sans-serif' font-size="13.60" font-weight="bold" fill="#fff">にする</text>
<path d="M692.70,324.20 L700.80,324.20 L702.90,328.20 L712.70,328.20 L715.00,324.20 L865.30,324.20 L867.80,326.70 L867.80,344.90 L865.30,347.40 L715.00,347.40 L712.80,351.50 L702.70,351.50 L700.60,347.40 L692.70,347.40 L690.20,344.90 L690.20,326.70Z" fill="#0e9a6c"/>
<path d="M690.80,345.60 L690.80,327.40 L693.30,324.90 L701.40,324.90 M715.80,324.90 L865.30,324.90" fill="none" stroke="#4fc49a" stroke-width="1.3" stroke-opacity="0.8" stroke-linejoin="round"/>
<path d="M703.20,328.80 L712.40,328.80" fill="none" stroke="#4fc49a" stroke-width="1" stroke-opacity="0.6"/>
<path d="M867.20,326.10 L867.20,344.30 L864.70,346.80 L714.40,346.80 L712.20,350.90 L702.10,350.90 L700.00,346.80 L692.10,346.80 L689.60,344.30" fill="none" stroke="#09724f" stroke-width="1.2" stroke-linejoin="round"/>
<text x="694.50" y="340.80" textLength="76.00" lengthAdjust="spacing" font-family='"Liberation Sans","Noto Sans CJK JP",sans-serif' font-size="13.60" font-weight="bold" fill="#fff">ペンの太さを</text>
<rect x="776.70" y="327.85" width="14.80" height="17.50" rx="6.50" ry="6.50" fill="#fff"/>
<text x="784.10" y="340.83" text-anchor="middle" letter-spacing="0.6" font-family='"DejaVu Sans","Liberation Sans",sans-serif' font-size="11.60" fill="#000">1</text>
<text x="797.40" y="340.80" textLength="65.80" lengthAdjust="spacing" font-family='"Liberation Sans","Noto Sans CJK JP",sans-serif' font-size="13.60" font-weight="bold" fill="#fff">ずつ変える</text>
<path d="M692.70,355.20 L700.80,355.20 L702.90,359.20 L712.70,359.20 L715.00,355.20 L836.60,355.20 L839.10,357.70 L839.10,375.90 L836.60,378.40 L715.00,378.40 L712.80,382.50 L702.70,382.50 L700.60,378.40 L692.70,378.40 L690.20,375.90 L690.20,357.70Z" fill="#0e9a6c"/>
<path d="M690.80,376.60 L690.80,358.40 L693.30,355.90 L701.40,355.90 M715.80,355.90 L836.60,355.90" fill="none" stroke="#4fc49a" stroke-width="1.3" stroke-opacity="0.8" stroke-linejoin="round"/>
<path d="M703.20,359.80 L712.40,359.80" fill="none" stroke="#4fc49a" stroke-width="1" stroke-opacity="0.6"/>
<path d="M838.50,357.10 L838.50,375.30 L836.00,377.80 L714.40,377.80 L712.20,381.90 L702.10,381.90 L700.00,377.80 L692.10,377.80 L689.60,375.30" fill="none" stroke="#09724f" stroke-width="1.2" stroke-linejoin="round"/>
<text x="694.50" y="371.80" textLength="76.00" lengthAdjust="spacing" font-family='"Liberation Sans","Noto Sans CJK JP",sans-serif' font-size="13.60" font-weight="bold" fill="#fff">ペンの太さを</text>
<rect x="776.70" y="358.85" width="14.80" height="17.50" rx="6.50" ry="6.50" fill="#fff"/>
<text x="784.10" y="371.83" text-anchor="middle" letter-spacing="0.6" font-family='"DejaVu Sans","Liberation Sans",sans-serif' font-size="11.60" fill="#000">1</text>
<text x="796.30" y="371.80" textLength="38.00" lengthAdjust="spacing" font-family='"Liberation Sans","Noto Sans CJK JP",sans-serif' font-size="13.60" font-weight="bold" fill="#fff">にする</text>
<path d="M692.70,400.80 L700.80,400.80 L702.90,404.80 L712.70,404.80 L715.00,400.80 L743.40,400.80 L745.90,403.30 L745.90,419.60 L743.40,422.10 L715.00,422.10 L712.80,426.20 L702.70,426.20 L700.60,422.10 L692.70,422.10 L690.20,419.60 L690.20,403.30Z" fill="#0e9a6c"/>
<path d="M690.80,420.30 L690.80,404.00 L693.30,401.50 L701.40,401.50 M715.80,401.50 L743.40,401.50" fill="none" stroke="#4fc49a" stroke-width="1.3" stroke-opacity="0.8" stroke-linejoin="round"/>
<path d="M703.20,405.40 L712.40,405.40" fill="none" stroke="#4fc49a" stroke-width="1" stroke-opacity="0.6"/>
<path d="M745.30,402.70 L745.30,419.00 L742.80,421.50 L714.40,421.50 L712.20,425.60 L702.10,425.60 L700.00,421.50 L692.10,421.50 L689.60,419.00" fill="none" stroke="#09724f" stroke-width="1.2" stroke-linejoin="round"/>
<text x="694.50" y="416.10" textLength="47.30" lengthAdjust="spacing" font-family='"Liberation Sans","Noto Sans CJK JP",sans-serif' font-size="13.60" font-weight="bold" fill="#fff">スタンプ</text>
</g>
</svg>
</body></html>
